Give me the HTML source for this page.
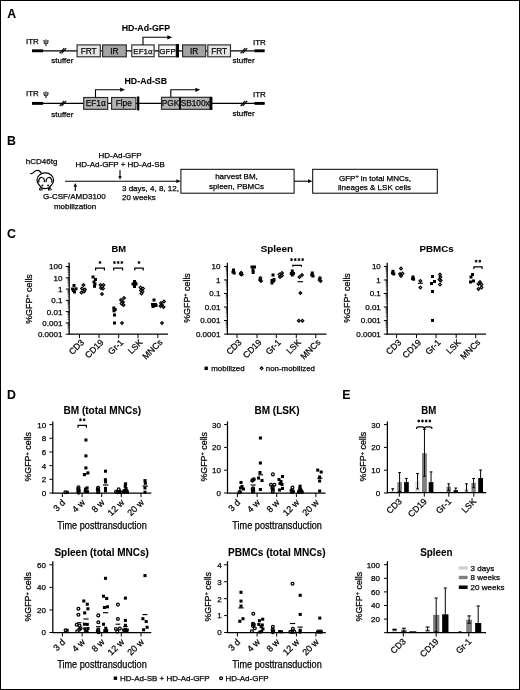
<!DOCTYPE html>
<html><head><meta charset="utf-8"><title>Figure</title>
<style>
html,body{margin:0;padding:0;background:#fff;}
body{width:520px;height:690px;overflow:hidden;position:relative;}
svg text{stroke:#000;stroke-width:0.25px;}
svg text[font-weight=bold]{stroke-width:0.08px;}
svg{position:absolute;left:0;top:0;display:block;will-change:transform;font-family:"Liberation Sans",sans-serif;fill:#000;}
#frame{position:absolute;left:0;top:0;width:518px;height:688px;border:1px solid #000;}
</style></head><body>
<svg width="520" height="690" viewBox="0 0 520 690">
<text x="7.2" y="17.5" font-size="12.3" text-anchor="start" font-weight="bold">A</text>
<text x="145.9" y="31.2" font-size="8.9" text-anchor="middle" font-weight="bold" textLength="48.4" lengthAdjust="spacingAndGlyphs">HD-Ad-GFP</text>
<text x="145.8" y="83.7" font-size="8.9" text-anchor="middle" font-weight="bold" textLength="42.6" lengthAdjust="spacingAndGlyphs">HD-Ad-SB</text>
<line x1="32" y1="50.8" x2="264.5" y2="50.8" stroke="#000" stroke-width="1.25" />
<line x1="32" y1="50.8" x2="43.1" y2="50.8" stroke="#000" stroke-width="2.9" />
<line x1="254.5" y1="50.8" x2="264.6" y2="50.8" stroke="#000" stroke-width="2.9" />
<text x="26" y="43.6" font-size="8" text-anchor="start">ITR</text>
<text x="43.2" y="43.800000000000004" font-size="7.6" text-anchor="start">ψ</text>
<text x="253" y="44.5" font-size="8" text-anchor="start">ITR</text>
<text x="51.3" y="63.4" font-size="8" text-anchor="start">stuffer</text>
<text x="232.6" y="63.0" font-size="8" text-anchor="start">stuffer</text>
<line x1="59.6" y1="53.4" x2="64.2" y2="48.199999999999996" stroke="#000" stroke-width="1.15" />
<line x1="61.6" y1="53.4" x2="66.2" y2="48.199999999999996" stroke="#000" stroke-width="1.15" />
<line x1="240.6" y1="53.4" x2="245.2" y2="48.199999999999996" stroke="#000" stroke-width="1.15" />
<line x1="242.6" y1="53.4" x2="247.2" y2="48.199999999999996" stroke="#000" stroke-width="1.15" />
<line x1="32" y1="103.4" x2="264.5" y2="103.4" stroke="#000" stroke-width="1.25" />
<line x1="32" y1="103.4" x2="43.1" y2="103.4" stroke="#000" stroke-width="2.9" />
<line x1="254.5" y1="103.4" x2="264.6" y2="103.4" stroke="#000" stroke-width="2.9" />
<text x="26" y="96" font-size="8" text-anchor="start">ITR</text>
<text x="43.2" y="96.2" font-size="7.6" text-anchor="start">ψ</text>
<text x="253" y="96.9" font-size="8" text-anchor="start">ITR</text>
<text x="51.3" y="116.5" font-size="8" text-anchor="start">stuffer</text>
<text x="232.6" y="116.1" font-size="8" text-anchor="start">stuffer</text>
<line x1="59.6" y1="106.0" x2="64.2" y2="100.80000000000001" stroke="#000" stroke-width="1.15" />
<line x1="61.6" y1="106.0" x2="66.2" y2="100.80000000000001" stroke="#000" stroke-width="1.15" />
<line x1="240.6" y1="106.0" x2="245.2" y2="100.80000000000001" stroke="#000" stroke-width="1.15" />
<line x1="242.6" y1="106.0" x2="247.2" y2="100.80000000000001" stroke="#000" stroke-width="1.15" />
<rect x="77.1" y="44.9" width="23.200000000000003" height="11.899999999999999" fill="#e6e6e6" stroke="#2a2a2a" stroke-width="1.15"/>
<text x="88.69999999999999" y="53.849999999999994" font-size="8.3" text-anchor="middle" fill="#111">FRT</text>
<rect x="102.6" y="44.9" width="23.700000000000003" height="11.899999999999999" fill="#a3a3a3" stroke="#2a2a2a" stroke-width="1.15"/>
<text x="114.44999999999999" y="53.849999999999994" font-size="8.3" text-anchor="middle" fill="#111">IR</text>
<rect x="131.8" y="44.9" width="22.299999999999983" height="11.800000000000004" fill="#f6f6f6" stroke="#2a2a2a" stroke-width="1.15"/>
<text x="142.95" y="53.8" font-size="8" text-anchor="middle" fill="#111">EF1α</text>
<rect x="158.8" y="44.9" width="17.5" height="11.800000000000004" fill="#f6f6f6" stroke="#2a2a2a" stroke-width="1.15"/>
<text x="167.55" y="53.8" font-size="8" text-anchor="middle" fill="#111">GFP</text>
<rect x="176.2" y="44" width="2.8" height="13.4" fill="#000" stroke="none" stroke-width="1"/>
<rect x="182.6" y="44.9" width="23.099999999999994" height="11.899999999999999" fill="#a3a3a3" stroke="#2a2a2a" stroke-width="1.15"/>
<text x="194.14999999999998" y="53.849999999999994" font-size="8.3" text-anchor="middle" fill="#111">IR</text>
<rect x="207.8" y="44.9" width="22.69999999999999" height="11.899999999999999" fill="#e6e6e6" stroke="#2a2a2a" stroke-width="1.15"/>
<text x="219.15" y="53.849999999999994" font-size="8.3" text-anchor="middle" fill="#111">FRT</text>
<path d="M143 44.9V37.3H168.6" fill="none" stroke="#000" stroke-width="1.1"/>
<path d="M172.2 37.3L167.4 35.2V39.4Z" fill="#000"/>
<rect x="83.7" y="97.5" width="24.0" height="11.799999999999997" fill="#b5b5b5" stroke="#2a2a2a" stroke-width="1.15"/>
<text x="95.7" y="106.4" font-size="8.3" text-anchor="middle" fill="#111">EF1α</text>
<rect x="111.6" y="97.5" width="24.30000000000001" height="11.799999999999997" fill="#b5b5b5" stroke="#2a2a2a" stroke-width="1.15"/>
<text x="123.75" y="106.4" font-size="8.3" text-anchor="middle" fill="#111">Flpe</text>
<rect x="137.1" y="96.4" width="2.2" height="14" fill="#000" stroke="none" stroke-width="1"/>
<rect x="161.5" y="97.3" width="18.099999999999994" height="12.0" fill="#b5b5b5" stroke="#2a2a2a" stroke-width="1.15"/>
<text x="170.55" y="106.3" font-size="8.3" text-anchor="middle" fill="#111">PGK</text>
<rect x="180.4" y="97.3" width="29.599999999999994" height="12.0" fill="#b5b5b5" stroke="#2a2a2a" stroke-width="1.15"/>
<text x="195.2" y="106.3" font-size="8.3" text-anchor="middle" fill="#111">SB100x</text>
<rect x="179.2" y="97.3" width="1.6" height="12" fill="#000" stroke="none" stroke-width="1"/>
<rect x="209.8" y="96.8" width="2.6" height="13.2" fill="#000" stroke="none" stroke-width="1"/>
<path d="M95.5 97.3V89.7H121.5" fill="none" stroke="#000" stroke-width="1.1"/>
<path d="M125 89.7L120.2 87.6V91.8Z" fill="#000"/>
<path d="M170.8 97V89.8H196.5" fill="none" stroke="#000" stroke-width="1.1"/>
<path d="M200.2 89.8L195.4 87.7V91.9Z" fill="#000"/>
<text x="6.9" y="145" font-size="12.3" text-anchor="start" font-weight="bold">B</text>
<text x="25.8" y="164.3" font-size="8" text-anchor="start">hCD46tg</text>
<g fill="none" stroke="#000" stroke-width="1.25" stroke-linecap="round" stroke-linejoin="round"><path d="M30.7 173.5C33 174.2 33.8 171.6 35.6 170.8C38 169.7 40.2 170.6 41.4 173.4"/><path d="M45.3 172.9C40.4 172.9 37 176.4 37 180.2C37 183 38.6 184.6 40 186C41.2 187.8 42.8 188.6 45.3 188.6C47.8 188.6 49.4 187.8 50.6 186C52 184.6 53.6 183 53.6 180.2C53.6 176.4 50.2 172.9 45.3 172.9Z"/><path d="M38.8 182C38.4 179.2 40 177.4 41.8 177.5C43.6 177.6 44.6 179.4 44.4 181.6"/><path d="M51.8 182C52.2 179.2 50.6 177.4 48.8 177.5C47 177.6 46 179.4 46.2 181.6"/></g>
<g fill="none" stroke="#000" stroke-width="1" stroke-linecap="round"><path d="M40.2 187.6L39.4 189.8M41.2 188L40.7 190.2M42.2 188.4L42 190.2"/><path d="M50.4 187.6L51.2 189.8M49.4 188L49.9 190.2M48.4 188.4L48.6 190.2"/></g>
<circle cx="42.4" cy="185.4" r="0.95"/><circle cx="48.1" cy="185.4" r="0.95"/>
<line x1="65" y1="181.2" x2="178" y2="181.2" stroke="#000" stroke-width="1.15" />
<path d="M180.8 181.2L176.4 179.3V183.1Z" fill="#000"/>
<line x1="75.3" y1="191" x2="75.3" y2="185.5" stroke="#000" stroke-width="1.1" />
<path d="M75.3 183L73.5 186.8H77.1Z" fill="#000"/>
<line x1="120" y1="170" x2="120" y2="177" stroke="#000" stroke-width="1.1" />
<path d="M120 179.8L118.3 176H121.7Z" fill="#000"/>
<text x="74.4" y="199" font-size="8" text-anchor="middle">G-CSF/AMD3100</text>
<text x="75" y="209" font-size="8" text-anchor="middle">mobilization</text>
<text x="120" y="158.2" font-size="8" text-anchor="middle">HD-Ad-GFP</text>
<text x="120.2" y="167.2" font-size="8" text-anchor="middle">HD-Ad-GFP + HD-Ad-SB</text>
<text x="122" y="190.7" font-size="8" text-anchor="start">3 days, 4, 8, 12,</text>
<text x="122" y="200" font-size="8" text-anchor="start">20 weeks</text>
<rect x="180.9" y="169.3" width="113.2" height="23.9" fill="#fff" stroke="#000" stroke-width="1"/>
<text x="236.5" y="179.4" font-size="8" text-anchor="middle">harvest BM,</text>
<text x="236.5" y="189.3" font-size="8" text-anchor="middle">spleen, PBMCs</text>
<line x1="294" y1="181.2" x2="309" y2="181.2" stroke="#000" stroke-width="1.1" />
<path d="M312.5 181.2L308 179.3V183.1Z" fill="#000"/>
<rect x="312.7" y="169.3" width="124.6" height="23.9" fill="#fff" stroke="#000" stroke-width="1"/>
<text x="375" y="180.6" font-size="8" text-anchor="middle">GFP<tspan font-size="5.5" dy="-2.8">+</tspan><tspan dy="2.8"> in total MNCs,</tspan></text>
<text x="374.5" y="190" font-size="8" text-anchor="middle">lineages &amp; LSK cells</text>
<text x="6.9" y="237.6" font-size="12.3" text-anchor="start" font-weight="bold">C</text>
<line x1="69.2" y1="262.8" x2="69.2" y2="334.70000000000005" stroke="#000" stroke-width="1.25" />
<line x1="68.60000000000001" y1="334.1" x2="168" y2="334.1" stroke="#000" stroke-width="1.25" />
<line x1="65.8" y1="266.5" x2="69.2" y2="266.5" stroke="#000" stroke-width="1.0" />
<text x="62.4" y="269.4" font-size="8.0" text-anchor="end">100</text>
<line x1="65.8" y1="277.78" x2="69.2" y2="277.78" stroke="#000" stroke-width="1.0" />
<text x="62.4" y="280.67999999999995" font-size="8.0" text-anchor="end">10</text>
<line x1="65.8" y1="289.06" x2="69.2" y2="289.06" stroke="#000" stroke-width="1.0" />
<text x="62.4" y="291.96" font-size="8.0" text-anchor="end">1</text>
<line x1="65.8" y1="300.34" x2="69.2" y2="300.34" stroke="#000" stroke-width="1.0" />
<text x="62.4" y="303.23999999999995" font-size="8.0" text-anchor="end">0.1</text>
<line x1="65.8" y1="311.62" x2="69.2" y2="311.62" stroke="#000" stroke-width="1.0" />
<text x="62.4" y="314.52" font-size="8.0" text-anchor="end">0.01</text>
<line x1="65.8" y1="322.9" x2="69.2" y2="322.9" stroke="#000" stroke-width="1.0" />
<text x="62.4" y="325.79999999999995" font-size="8.0" text-anchor="end">0.001</text>
<line x1="65.8" y1="334.18" x2="69.2" y2="334.18" stroke="#000" stroke-width="1.0" />
<text x="62.4" y="337.08" font-size="8.0" text-anchor="end">0.0001</text>
<line x1="79.5" y1="334.1" x2="79.5" y2="338.1" stroke="#000" stroke-width="1.0" />
<line x1="99" y1="334.1" x2="99" y2="338.1" stroke="#000" stroke-width="1.0" />
<line x1="118.7" y1="334.1" x2="118.7" y2="338.1" stroke="#000" stroke-width="1.0" />
<line x1="138" y1="334.1" x2="138" y2="338.1" stroke="#000" stroke-width="1.0" />
<line x1="157.8" y1="334.1" x2="157.8" y2="338.1" stroke="#000" stroke-width="1.0" />
<line x1="67.60000000000001" y1="263.1043816489103" x2="69.2" y2="263.1043816489103" stroke="#000" stroke-width="0.55" />
<line x1="67.60000000000001" y1="274.3843816489103" x2="69.2" y2="274.3843816489103" stroke="#000" stroke-width="0.55" />
<line x1="67.60000000000001" y1="272.3980722467622" x2="69.2" y2="272.3980722467622" stroke="#000" stroke-width="0.55" />
<line x1="67.60000000000001" y1="270.9887632978206" x2="69.2" y2="270.9887632978206" stroke="#000" stroke-width="0.55" />
<line x1="67.60000000000001" y1="269.8956183510897" x2="69.2" y2="269.8956183510897" stroke="#000" stroke-width="0.55" />
<line x1="67.60000000000001" y1="269.0024538956725" x2="69.2" y2="269.0024538956725" stroke="#000" stroke-width="0.55" />
<line x1="67.60000000000001" y1="268.24729410863915" x2="69.2" y2="268.24729410863915" stroke="#000" stroke-width="0.55" />
<line x1="67.60000000000001" y1="267.59314494673083" x2="69.2" y2="267.59314494673083" stroke="#000" stroke-width="0.55" />
<line x1="67.60000000000001" y1="267.0161444935244" x2="69.2" y2="267.0161444935244" stroke="#000" stroke-width="0.55" />
<line x1="67.60000000000001" y1="285.6643816489103" x2="69.2" y2="285.6643816489103" stroke="#000" stroke-width="0.55" />
<line x1="67.60000000000001" y1="283.6780722467622" x2="69.2" y2="283.6780722467622" stroke="#000" stroke-width="0.55" />
<line x1="67.60000000000001" y1="282.2687632978206" x2="69.2" y2="282.2687632978206" stroke="#000" stroke-width="0.55" />
<line x1="67.60000000000001" y1="281.1756183510897" x2="69.2" y2="281.1756183510897" stroke="#000" stroke-width="0.55" />
<line x1="67.60000000000001" y1="280.2824538956725" x2="69.2" y2="280.2824538956725" stroke="#000" stroke-width="0.55" />
<line x1="67.60000000000001" y1="279.5272941086392" x2="69.2" y2="279.5272941086392" stroke="#000" stroke-width="0.55" />
<line x1="67.60000000000001" y1="278.87314494673086" x2="69.2" y2="278.87314494673086" stroke="#000" stroke-width="0.55" />
<line x1="67.60000000000001" y1="278.2961444935244" x2="69.2" y2="278.2961444935244" stroke="#000" stroke-width="0.55" />
<line x1="67.60000000000001" y1="296.9443816489103" x2="69.2" y2="296.9443816489103" stroke="#000" stroke-width="0.55" />
<line x1="67.60000000000001" y1="294.9580722467622" x2="69.2" y2="294.9580722467622" stroke="#000" stroke-width="0.55" />
<line x1="67.60000000000001" y1="293.5487632978206" x2="69.2" y2="293.5487632978206" stroke="#000" stroke-width="0.55" />
<line x1="67.60000000000001" y1="292.4556183510897" x2="69.2" y2="292.4556183510897" stroke="#000" stroke-width="0.55" />
<line x1="67.60000000000001" y1="291.5624538956725" x2="69.2" y2="291.5624538956725" stroke="#000" stroke-width="0.55" />
<line x1="67.60000000000001" y1="290.80729410863916" x2="69.2" y2="290.80729410863916" stroke="#000" stroke-width="0.55" />
<line x1="67.60000000000001" y1="290.15314494673083" x2="69.2" y2="290.15314494673083" stroke="#000" stroke-width="0.55" />
<line x1="67.60000000000001" y1="289.5761444935244" x2="69.2" y2="289.5761444935244" stroke="#000" stroke-width="0.55" />
<line x1="67.60000000000001" y1="308.2243816489103" x2="69.2" y2="308.2243816489103" stroke="#000" stroke-width="0.55" />
<line x1="67.60000000000001" y1="306.2380722467622" x2="69.2" y2="306.2380722467622" stroke="#000" stroke-width="0.55" />
<line x1="67.60000000000001" y1="304.8287632978206" x2="69.2" y2="304.8287632978206" stroke="#000" stroke-width="0.55" />
<line x1="67.60000000000001" y1="303.7356183510897" x2="69.2" y2="303.7356183510897" stroke="#000" stroke-width="0.55" />
<line x1="67.60000000000001" y1="302.8424538956725" x2="69.2" y2="302.8424538956725" stroke="#000" stroke-width="0.55" />
<line x1="67.60000000000001" y1="302.0872941086392" x2="69.2" y2="302.0872941086392" stroke="#000" stroke-width="0.55" />
<line x1="67.60000000000001" y1="301.43314494673086" x2="69.2" y2="301.43314494673086" stroke="#000" stroke-width="0.55" />
<line x1="67.60000000000001" y1="300.8561444935244" x2="69.2" y2="300.8561444935244" stroke="#000" stroke-width="0.55" />
<line x1="67.60000000000001" y1="319.5043816489103" x2="69.2" y2="319.5043816489103" stroke="#000" stroke-width="0.55" />
<line x1="67.60000000000001" y1="317.5180722467622" x2="69.2" y2="317.5180722467622" stroke="#000" stroke-width="0.55" />
<line x1="67.60000000000001" y1="316.1087632978206" x2="69.2" y2="316.1087632978206" stroke="#000" stroke-width="0.55" />
<line x1="67.60000000000001" y1="315.0156183510897" x2="69.2" y2="315.0156183510897" stroke="#000" stroke-width="0.55" />
<line x1="67.60000000000001" y1="314.1224538956725" x2="69.2" y2="314.1224538956725" stroke="#000" stroke-width="0.55" />
<line x1="67.60000000000001" y1="313.36729410863916" x2="69.2" y2="313.36729410863916" stroke="#000" stroke-width="0.55" />
<line x1="67.60000000000001" y1="312.71314494673084" x2="69.2" y2="312.71314494673084" stroke="#000" stroke-width="0.55" />
<line x1="67.60000000000001" y1="312.1361444935244" x2="69.2" y2="312.1361444935244" stroke="#000" stroke-width="0.55" />
<line x1="67.60000000000001" y1="330.7843816489103" x2="69.2" y2="330.7843816489103" stroke="#000" stroke-width="0.55" />
<line x1="67.60000000000001" y1="328.7980722467622" x2="69.2" y2="328.7980722467622" stroke="#000" stroke-width="0.55" />
<line x1="67.60000000000001" y1="327.3887632978206" x2="69.2" y2="327.3887632978206" stroke="#000" stroke-width="0.55" />
<line x1="67.60000000000001" y1="326.29561835108973" x2="69.2" y2="326.29561835108973" stroke="#000" stroke-width="0.55" />
<line x1="67.60000000000001" y1="325.4024538956725" x2="69.2" y2="325.4024538956725" stroke="#000" stroke-width="0.55" />
<line x1="67.60000000000001" y1="324.6472941086392" x2="69.2" y2="324.6472941086392" stroke="#000" stroke-width="0.55" />
<line x1="67.60000000000001" y1="323.99314494673087" x2="69.2" y2="323.99314494673087" stroke="#000" stroke-width="0.55" />
<line x1="67.60000000000001" y1="323.4161444935244" x2="69.2" y2="323.4161444935244" stroke="#000" stroke-width="0.55" />
<text x="118.8" y="251.9" font-size="9.6" text-anchor="middle" font-weight="bold" textLength="14.6" lengthAdjust="spacingAndGlyphs">BM</text>
<text transform="translate(31.6,299) rotate(-90)" font-size="9.4" text-anchor="middle" textLength="49.6" lengthAdjust="spacingAndGlyphs">%GFP<tspan font-size="6" dy="-2.4">+</tspan><tspan dy="2.4"> cells</tspan></text>
<text transform="translate(84.7,343.0) rotate(-45)" font-size="8.7" text-anchor="end">CD3</text>
<text transform="translate(104.2,343.0) rotate(-45)" font-size="8.7" text-anchor="end">CD19</text>
<text transform="translate(123.9,343.0) rotate(-45)" font-size="8.7" text-anchor="end">Gr-1</text>
<text transform="translate(143.2,343.0) rotate(-45)" font-size="8.7" text-anchor="end">LSK</text>
<text transform="translate(163.0,343.0) rotate(-45)" font-size="8.7" text-anchor="end">MNCs</text>
<path d="M95.6 270.5V268.2H104.4V270.5" fill="none" stroke="#000" stroke-width="1.2"/>
<path d="M100.00 261.05L100.00 263.95M98.74 261.77L101.26 263.23M101.26 261.77L98.74 263.23" stroke="#000" stroke-width="0.95" fill="none"/>
<circle cx="100.00" cy="262.50" r="0.8" fill="#000"/>
<path d="M113.7 270.5V268.2H122.6V270.5" fill="none" stroke="#000" stroke-width="1.2"/>
<path d="M114.45 261.05L114.45 263.95M113.19 261.77L115.71 263.23M115.71 261.77L113.19 263.23" stroke="#000" stroke-width="0.95" fill="none"/>
<circle cx="114.45" cy="262.50" r="0.8" fill="#000"/>
<path d="M118.15 261.05L118.15 263.95M116.89 261.77L119.41 263.23M119.41 261.77L116.89 263.23" stroke="#000" stroke-width="0.95" fill="none"/>
<circle cx="118.15" cy="262.50" r="0.8" fill="#000"/>
<path d="M121.85 261.05L121.85 263.95M120.59 261.77L123.11 263.23M123.11 261.77L120.59 263.23" stroke="#000" stroke-width="0.95" fill="none"/>
<circle cx="121.85" cy="262.50" r="0.8" fill="#000"/>
<path d="M134.8 270.5V268.2H143.2V270.5" fill="none" stroke="#000" stroke-width="1.2"/>
<path d="M139.00 261.05L139.00 263.95M137.74 261.77L140.26 263.23M140.26 261.77L137.74 263.23" stroke="#000" stroke-width="0.95" fill="none"/>
<circle cx="139.00" cy="262.50" r="0.8" fill="#000"/>
<rect x="72.50" y="284.00" width="3.0" height="3.0" fill="#000"/>
<rect x="71.10" y="287.50" width="3.0" height="3.0" fill="#000"/>
<rect x="74.50" y="287.30" width="3.0" height="3.0" fill="#000"/>
<rect x="73.00" y="290.50" width="3.0" height="3.0" fill="#000"/>
<rect x="72.00" y="289.00" width="3.0" height="3.0" fill="#000"/>
<rect x="91.50" y="275.50" width="3.0" height="3.0" fill="#000"/>
<rect x="94.00" y="278.00" width="3.0" height="3.0" fill="#000"/>
<rect x="92.50" y="280.50" width="3.0" height="3.0" fill="#000"/>
<rect x="93.50" y="282.50" width="3.0" height="3.0" fill="#000"/>
<rect x="93.00" y="284.80" width="3.0" height="3.0" fill="#000"/>
<rect x="112.30" y="306.50" width="3.0" height="3.0" fill="#000"/>
<rect x="113.70" y="308.00" width="3.0" height="3.0" fill="#000"/>
<rect x="112.50" y="309.30" width="3.0" height="3.0" fill="#000"/>
<rect x="113.00" y="313.50" width="3.0" height="3.0" fill="#000"/>
<rect x="113.00" y="321.50" width="3.0" height="3.0" fill="#000"/>
<rect x="133.00" y="280.00" width="3.0" height="3.0" fill="#000"/>
<rect x="131.50" y="282.50" width="3.0" height="3.0" fill="#000"/>
<rect x="134.50" y="282.50" width="3.0" height="3.0" fill="#000"/>
<rect x="133.00" y="285.00" width="3.0" height="3.0" fill="#000"/>
<rect x="133.70" y="281.50" width="3.0" height="3.0" fill="#000"/>
<rect x="152.50" y="298.50" width="3.0" height="3.0" fill="#000"/>
<rect x="151.00" y="303.00" width="3.0" height="3.0" fill="#000"/>
<rect x="152.50" y="304.00" width="3.0" height="3.0" fill="#000"/>
<rect x="154.00" y="303.00" width="3.0" height="3.0" fill="#000"/>
<rect x="151.50" y="305.00" width="3.0" height="3.0" fill="#000"/>
<rect x="154.50" y="304.00" width="3.0" height="3.0" fill="#000"/>
<path d="M83.50 283.60L84.90 285.00L83.50 286.40L82.10 285.00Z" fill="none" stroke="#000" stroke-width="1.15"/>
<path d="M82.00 287.10L83.40 288.50L82.00 289.90L80.60 288.50Z" fill="none" stroke="#000" stroke-width="1.15"/>
<path d="M85.00 288.10L86.40 289.50L85.00 290.90L83.60 289.50Z" fill="none" stroke="#000" stroke-width="1.15"/>
<path d="M81.50 291.10L82.90 292.50L81.50 293.90L80.10 292.50Z" fill="none" stroke="#000" stroke-width="1.15"/>
<path d="M84.00 290.10L85.40 291.50L84.00 292.90L82.60 291.50Z" fill="none" stroke="#000" stroke-width="1.15"/>
<path d="M100.50 283.60L101.90 285.00L100.50 286.40L99.10 285.00Z" fill="none" stroke="#000" stroke-width="1.15"/>
<path d="M103.50 283.60L104.90 285.00L103.50 286.40L102.10 285.00Z" fill="none" stroke="#000" stroke-width="1.15"/>
<path d="M101.00 286.60L102.40 288.00L101.00 289.40L99.60 288.00Z" fill="none" stroke="#000" stroke-width="1.15"/>
<path d="M103.00 287.10L104.40 288.50L103.00 289.90L101.60 288.50Z" fill="none" stroke="#000" stroke-width="1.15"/>
<path d="M102.00 292.60L103.40 294.00L102.00 295.40L100.60 294.00Z" fill="none" stroke="#000" stroke-width="1.15"/>
<path d="M124.00 296.60L125.40 298.00L124.00 299.40L122.60 298.00Z" fill="none" stroke="#000" stroke-width="1.15"/>
<path d="M121.00 298.60L122.40 300.00L121.00 301.40L119.60 300.00Z" fill="none" stroke="#000" stroke-width="1.15"/>
<path d="M123.00 300.60L124.40 302.00L123.00 303.40L121.60 302.00Z" fill="none" stroke="#000" stroke-width="1.15"/>
<path d="M121.50 302.10L122.90 303.50L121.50 304.90L120.10 303.50Z" fill="none" stroke="#000" stroke-width="1.15"/>
<path d="M123.50 303.60L124.90 305.00L123.50 306.40L122.10 305.00Z" fill="none" stroke="#000" stroke-width="1.15"/>
<path d="M122.00 321.60L123.40 323.00L122.00 324.40L120.60 323.00Z" fill="none" stroke="#000" stroke-width="1.15"/>
<path d="M140.50 286.10L141.90 287.50L140.50 288.90L139.10 287.50Z" fill="none" stroke="#000" stroke-width="1.15"/>
<path d="M143.00 287.10L144.40 288.50L143.00 289.90L141.60 288.50Z" fill="none" stroke="#000" stroke-width="1.15"/>
<path d="M141.00 289.10L142.40 290.50L141.00 291.90L139.60 290.50Z" fill="none" stroke="#000" stroke-width="1.15"/>
<path d="M142.50 290.10L143.90 291.50L142.50 292.90L141.10 291.50Z" fill="none" stroke="#000" stroke-width="1.15"/>
<path d="M141.50 292.10L142.90 293.50L141.50 294.90L140.10 293.50Z" fill="none" stroke="#000" stroke-width="1.15"/>
<path d="M164.00 300.10L165.40 301.50L164.00 302.90L162.60 301.50Z" fill="none" stroke="#000" stroke-width="1.15"/>
<path d="M161.00 301.60L162.40 303.00L161.00 304.40L159.60 303.00Z" fill="none" stroke="#000" stroke-width="1.15"/>
<path d="M160.50 304.60L161.90 306.00L160.50 307.40L159.10 306.00Z" fill="none" stroke="#000" stroke-width="1.15"/>
<path d="M163.50 305.60L164.90 307.00L163.50 308.40L162.10 307.00Z" fill="none" stroke="#000" stroke-width="1.15"/>
<path d="M162.00 303.60L163.40 305.00L162.00 306.40L160.60 305.00Z" fill="none" stroke="#000" stroke-width="1.15"/>
<path d="M162.00 321.60L163.40 323.00L162.00 324.40L160.60 323.00Z" fill="none" stroke="#000" stroke-width="1.15"/>
<line x1="227.4" y1="262.8" x2="227.4" y2="334.70000000000005" stroke="#000" stroke-width="1.25" />
<line x1="226.8" y1="334.1" x2="326.5" y2="334.1" stroke="#000" stroke-width="1.25" />
<line x1="224.0" y1="266.4" x2="227.4" y2="266.4" stroke="#000" stroke-width="1.0" />
<text x="220.4" y="269.29999999999995" font-size="8.0" text-anchor="end">10</text>
<line x1="224.0" y1="279.94" x2="227.4" y2="279.94" stroke="#000" stroke-width="1.0" />
<text x="220.4" y="282.84" font-size="8.0" text-anchor="end">1</text>
<line x1="224.0" y1="293.47999999999996" x2="227.4" y2="293.47999999999996" stroke="#000" stroke-width="1.0" />
<text x="220.4" y="296.37999999999994" font-size="8.0" text-anchor="end">0.1</text>
<line x1="224.0" y1="307.02" x2="227.4" y2="307.02" stroke="#000" stroke-width="1.0" />
<text x="220.4" y="309.91999999999996" font-size="8.0" text-anchor="end">0.01</text>
<line x1="224.0" y1="320.55999999999995" x2="227.4" y2="320.55999999999995" stroke="#000" stroke-width="1.0" />
<text x="220.4" y="323.4599999999999" font-size="8.0" text-anchor="end">0.001</text>
<line x1="224.0" y1="334.09999999999997" x2="227.4" y2="334.09999999999997" stroke="#000" stroke-width="1.0" />
<text x="220.4" y="336.99999999999994" font-size="8.0" text-anchor="end">0.0001</text>
<line x1="237" y1="334.1" x2="237" y2="338.1" stroke="#000" stroke-width="1.0" />
<line x1="257" y1="334.1" x2="257" y2="338.1" stroke="#000" stroke-width="1.0" />
<line x1="276.3" y1="334.1" x2="276.3" y2="338.1" stroke="#000" stroke-width="1.0" />
<line x1="296.3" y1="334.1" x2="296.3" y2="338.1" stroke="#000" stroke-width="1.0" />
<line x1="315.8" y1="334.1" x2="315.8" y2="338.1" stroke="#000" stroke-width="1.0" />
<line x1="225.8" y1="275.86405385870967" x2="227.4" y2="275.86405385870967" stroke="#000" stroke-width="0.55" />
<line x1="225.8" y1="273.4797782110958" x2="227.4" y2="273.4797782110958" stroke="#000" stroke-width="0.55" />
<line x1="225.8" y1="271.7881077174194" x2="227.4" y2="271.7881077174194" stroke="#000" stroke-width="0.55" />
<line x1="225.8" y1="270.4759461412903" x2="227.4" y2="270.4759461412903" stroke="#000" stroke-width="0.55" />
<line x1="225.8" y1="269.40383206980545" x2="227.4" y2="269.40383206980545" stroke="#000" stroke-width="0.55" />
<line x1="225.8" y1="268.49737253820695" x2="227.4" y2="268.49737253820695" stroke="#000" stroke-width="0.55" />
<line x1="225.8" y1="267.71216157612906" x2="227.4" y2="267.71216157612906" stroke="#000" stroke-width="0.55" />
<line x1="225.8" y1="267.01955642219156" x2="227.4" y2="267.01955642219156" stroke="#000" stroke-width="0.55" />
<line x1="225.8" y1="289.40405385870963" x2="227.4" y2="289.40405385870963" stroke="#000" stroke-width="0.55" />
<line x1="225.8" y1="287.01977821109574" x2="227.4" y2="287.01977821109574" stroke="#000" stroke-width="0.55" />
<line x1="225.8" y1="285.32810771741936" x2="227.4" y2="285.32810771741936" stroke="#000" stroke-width="0.55" />
<line x1="225.8" y1="284.01594614129027" x2="227.4" y2="284.01594614129027" stroke="#000" stroke-width="0.55" />
<line x1="225.8" y1="282.9438320698054" x2="227.4" y2="282.9438320698054" stroke="#000" stroke-width="0.55" />
<line x1="225.8" y1="282.0373725382069" x2="227.4" y2="282.0373725382069" stroke="#000" stroke-width="0.55" />
<line x1="225.8" y1="281.252161576129" x2="227.4" y2="281.252161576129" stroke="#000" stroke-width="0.55" />
<line x1="225.8" y1="280.5595564221915" x2="227.4" y2="280.5595564221915" stroke="#000" stroke-width="0.55" />
<line x1="225.8" y1="302.94405385870965" x2="227.4" y2="302.94405385870965" stroke="#000" stroke-width="0.55" />
<line x1="225.8" y1="300.55977821109576" x2="227.4" y2="300.55977821109576" stroke="#000" stroke-width="0.55" />
<line x1="225.8" y1="298.8681077174194" x2="227.4" y2="298.8681077174194" stroke="#000" stroke-width="0.55" />
<line x1="225.8" y1="297.5559461412903" x2="227.4" y2="297.5559461412903" stroke="#000" stroke-width="0.55" />
<line x1="225.8" y1="296.48383206980543" x2="227.4" y2="296.48383206980543" stroke="#000" stroke-width="0.55" />
<line x1="225.8" y1="295.57737253820693" x2="227.4" y2="295.57737253820693" stroke="#000" stroke-width="0.55" />
<line x1="225.8" y1="294.79216157612905" x2="227.4" y2="294.79216157612905" stroke="#000" stroke-width="0.55" />
<line x1="225.8" y1="294.09955642219154" x2="227.4" y2="294.09955642219154" stroke="#000" stroke-width="0.55" />
<line x1="225.8" y1="316.4840538587096" x2="227.4" y2="316.4840538587096" stroke="#000" stroke-width="0.55" />
<line x1="225.8" y1="314.0997782110957" x2="227.4" y2="314.0997782110957" stroke="#000" stroke-width="0.55" />
<line x1="225.8" y1="312.40810771741934" x2="227.4" y2="312.40810771741934" stroke="#000" stroke-width="0.55" />
<line x1="225.8" y1="311.09594614129026" x2="227.4" y2="311.09594614129026" stroke="#000" stroke-width="0.55" />
<line x1="225.8" y1="310.0238320698054" x2="227.4" y2="310.0238320698054" stroke="#000" stroke-width="0.55" />
<line x1="225.8" y1="309.1173725382069" x2="227.4" y2="309.1173725382069" stroke="#000" stroke-width="0.55" />
<line x1="225.8" y1="308.332161576129" x2="227.4" y2="308.332161576129" stroke="#000" stroke-width="0.55" />
<line x1="225.8" y1="307.6395564221915" x2="227.4" y2="307.6395564221915" stroke="#000" stroke-width="0.55" />
<line x1="225.8" y1="330.02405385870964" x2="227.4" y2="330.02405385870964" stroke="#000" stroke-width="0.55" />
<line x1="225.8" y1="327.63977821109575" x2="227.4" y2="327.63977821109575" stroke="#000" stroke-width="0.55" />
<line x1="225.8" y1="325.94810771741936" x2="227.4" y2="325.94810771741936" stroke="#000" stroke-width="0.55" />
<line x1="225.8" y1="324.6359461412903" x2="227.4" y2="324.6359461412903" stroke="#000" stroke-width="0.55" />
<line x1="225.8" y1="323.5638320698054" x2="227.4" y2="323.5638320698054" stroke="#000" stroke-width="0.55" />
<line x1="225.8" y1="322.6573725382069" x2="227.4" y2="322.6573725382069" stroke="#000" stroke-width="0.55" />
<line x1="225.8" y1="321.87216157612903" x2="227.4" y2="321.87216157612903" stroke="#000" stroke-width="0.55" />
<line x1="225.8" y1="321.1795564221915" x2="227.4" y2="321.1795564221915" stroke="#000" stroke-width="0.55" />
<text x="276.9" y="252" font-size="9.6" text-anchor="middle" font-weight="bold" textLength="32.4" lengthAdjust="spacingAndGlyphs">Spleen</text>
<text transform="translate(189.6,298) rotate(-90)" font-size="9.4" text-anchor="middle" textLength="49.6" lengthAdjust="spacingAndGlyphs">%GFP<tspan font-size="6" dy="-2.4">+</tspan><tspan dy="2.4"> cells</tspan></text>
<text transform="translate(242.2,343.0) rotate(-45)" font-size="8.7" text-anchor="end">CD3</text>
<text transform="translate(262.2,343.0) rotate(-45)" font-size="8.7" text-anchor="end">CD19</text>
<text transform="translate(281.5,343.0) rotate(-45)" font-size="8.7" text-anchor="end">Gr-1</text>
<text transform="translate(301.5,343.0) rotate(-45)" font-size="8.7" text-anchor="end">LSK</text>
<text transform="translate(321.0,343.0) rotate(-45)" font-size="8.7" text-anchor="end">MNCs</text>
<path d="M292.8 266.8V265.3H301.4V266.8" fill="none" stroke="#000" stroke-width="1.2"/>
<path d="M291.55 258.15L291.55 261.05M290.29 258.88L292.81 260.33M292.81 258.88L290.29 260.33" stroke="#000" stroke-width="0.95" fill="none"/>
<circle cx="291.55" cy="259.60" r="0.8" fill="#000"/>
<path d="M295.25 258.15L295.25 261.05M293.99 258.88L296.51 260.33M296.51 258.88L293.99 260.33" stroke="#000" stroke-width="0.95" fill="none"/>
<circle cx="295.25" cy="259.60" r="0.8" fill="#000"/>
<path d="M298.95 258.15L298.95 261.05M297.69 258.88L300.21 260.33M300.21 258.88L297.69 260.33" stroke="#000" stroke-width="0.95" fill="none"/>
<circle cx="298.95" cy="259.60" r="0.8" fill="#000"/>
<path d="M302.65 258.15L302.65 261.05M301.39 258.88L303.91 260.33M303.91 258.88L301.39 260.33" stroke="#000" stroke-width="0.95" fill="none"/>
<circle cx="302.65" cy="259.60" r="0.8" fill="#000"/>
<rect x="232.00" y="268.50" width="3.0" height="3.0" fill="#000"/>
<rect x="231.50" y="270.50" width="3.0" height="3.0" fill="#000"/>
<rect x="232.70" y="271.50" width="3.0" height="3.0" fill="#000"/>
<rect x="232.00" y="269.70" width="3.0" height="3.0" fill="#000"/>
<rect x="250.50" y="265.50" width="3.0" height="3.0" fill="#000"/>
<rect x="253.00" y="265.50" width="3.0" height="3.0" fill="#000"/>
<rect x="251.50" y="268.50" width="3.0" height="3.0" fill="#000"/>
<rect x="251.70" y="271.00" width="3.0" height="3.0" fill="#000"/>
<rect x="271.50" y="273.50" width="3.0" height="3.0" fill="#000"/>
<rect x="270.50" y="279.00" width="3.0" height="3.0" fill="#000"/>
<rect x="272.10" y="279.50" width="3.0" height="3.0" fill="#000"/>
<rect x="270.50" y="281.50" width="3.0" height="3.0" fill="#000"/>
<rect x="272.50" y="278.00" width="3.0" height="3.0" fill="#000"/>
<rect x="290.80" y="269.50" width="3.0" height="3.0" fill="#000"/>
<rect x="289.80" y="272.00" width="3.0" height="3.0" fill="#000"/>
<rect x="292.00" y="272.00" width="3.0" height="3.0" fill="#000"/>
<rect x="290.80" y="273.50" width="3.0" height="3.0" fill="#000"/>
<rect x="310.80" y="271.50" width="3.0" height="3.0" fill="#000"/>
<rect x="310.30" y="273.50" width="3.0" height="3.0" fill="#000"/>
<rect x="311.50" y="274.50" width="3.0" height="3.0" fill="#000"/>
<path d="M241.20 271.40L242.60 272.80L241.20 274.20L239.80 272.80Z" fill="none" stroke="#000" stroke-width="1.15"/>
<path d="M240.70 272.60L242.10 274.00L240.70 275.40L239.30 274.00Z" fill="none" stroke="#000" stroke-width="1.15"/>
<path d="M241.80 273.10L243.20 274.50L241.80 275.90L240.40 274.50Z" fill="none" stroke="#000" stroke-width="1.15"/>
<path d="M260.40 276.60L261.80 278.00L260.40 279.40L259.00 278.00Z" fill="none" stroke="#000" stroke-width="1.15"/>
<path d="M260.00 278.60L261.40 280.00L260.00 281.40L258.60 280.00Z" fill="none" stroke="#000" stroke-width="1.15"/>
<path d="M261.00 279.60L262.40 281.00L261.00 282.40L259.60 281.00Z" fill="none" stroke="#000" stroke-width="1.15"/>
<path d="M282.00 271.60L283.40 273.00L282.00 274.40L280.60 273.00Z" fill="none" stroke="#000" stroke-width="1.15"/>
<path d="M279.50 273.10L280.90 274.50L279.50 275.90L278.10 274.50Z" fill="none" stroke="#000" stroke-width="1.15"/>
<path d="M282.00 274.10L283.40 275.50L282.00 276.90L280.60 275.50Z" fill="none" stroke="#000" stroke-width="1.15"/>
<path d="M280.00 275.60L281.40 277.00L280.00 278.40L278.60 277.00Z" fill="none" stroke="#000" stroke-width="1.15"/>
<path d="M302.00 273.60L303.40 275.00L302.00 276.40L300.60 275.00Z" fill="none" stroke="#000" stroke-width="1.15"/>
<path d="M299.50 275.60L300.90 277.00L299.50 278.40L298.10 277.00Z" fill="none" stroke="#000" stroke-width="1.15"/>
<path d="M300.40 291.60L301.80 293.00L300.40 294.40L299.00 293.00Z" fill="none" stroke="#000" stroke-width="1.15"/>
<path d="M298.80 319.40L300.20 320.80L298.80 322.20L297.40 320.80Z" fill="none" stroke="#000" stroke-width="1.15"/>
<path d="M302.40 319.40L303.80 320.80L302.40 322.20L301.00 320.80Z" fill="none" stroke="#000" stroke-width="1.15"/>
<path d="M320.00 276.60L321.40 278.00L320.00 279.40L318.60 278.00Z" fill="none" stroke="#000" stroke-width="1.15"/>
<path d="M319.60 278.60L321.00 280.00L319.60 281.40L318.20 280.00Z" fill="none" stroke="#000" stroke-width="1.15"/>
<path d="M320.60 279.60L322.00 281.00L320.60 282.40L319.20 281.00Z" fill="none" stroke="#000" stroke-width="1.15"/>
<line x1="297.55" y1="281.7" x2="303.05" y2="281.7" stroke="#000" stroke-width="1.15" />
<line x1="387.2" y1="262.8" x2="387.2" y2="334.70000000000005" stroke="#000" stroke-width="1.25" />
<line x1="386.59999999999997" y1="334.1" x2="486" y2="334.1" stroke="#000" stroke-width="1.25" />
<line x1="383.8" y1="266.4" x2="387.2" y2="266.4" stroke="#000" stroke-width="1.0" />
<text x="380.8" y="269.29999999999995" font-size="8.0" text-anchor="end">10</text>
<line x1="383.8" y1="279.94" x2="387.2" y2="279.94" stroke="#000" stroke-width="1.0" />
<text x="380.8" y="282.84" font-size="8.0" text-anchor="end">1</text>
<line x1="383.8" y1="293.47999999999996" x2="387.2" y2="293.47999999999996" stroke="#000" stroke-width="1.0" />
<text x="380.8" y="296.37999999999994" font-size="8.0" text-anchor="end">0.1</text>
<line x1="383.8" y1="307.02" x2="387.2" y2="307.02" stroke="#000" stroke-width="1.0" />
<text x="380.8" y="309.91999999999996" font-size="8.0" text-anchor="end">0.01</text>
<line x1="383.8" y1="320.55999999999995" x2="387.2" y2="320.55999999999995" stroke="#000" stroke-width="1.0" />
<text x="380.8" y="323.4599999999999" font-size="8.0" text-anchor="end">0.001</text>
<line x1="383.8" y1="334.09999999999997" x2="387.2" y2="334.09999999999997" stroke="#000" stroke-width="1.0" />
<text x="380.8" y="336.99999999999994" font-size="8.0" text-anchor="end">0.0001</text>
<line x1="396.6" y1="334.1" x2="396.6" y2="338.1" stroke="#000" stroke-width="1.0" />
<line x1="416.5" y1="334.1" x2="416.5" y2="338.1" stroke="#000" stroke-width="1.0" />
<line x1="436" y1="334.1" x2="436" y2="338.1" stroke="#000" stroke-width="1.0" />
<line x1="456.2" y1="334.1" x2="456.2" y2="338.1" stroke="#000" stroke-width="1.0" />
<line x1="475.7" y1="334.1" x2="475.7" y2="338.1" stroke="#000" stroke-width="1.0" />
<line x1="385.59999999999997" y1="275.86405385870967" x2="387.2" y2="275.86405385870967" stroke="#000" stroke-width="0.55" />
<line x1="385.59999999999997" y1="273.4797782110958" x2="387.2" y2="273.4797782110958" stroke="#000" stroke-width="0.55" />
<line x1="385.59999999999997" y1="271.7881077174194" x2="387.2" y2="271.7881077174194" stroke="#000" stroke-width="0.55" />
<line x1="385.59999999999997" y1="270.4759461412903" x2="387.2" y2="270.4759461412903" stroke="#000" stroke-width="0.55" />
<line x1="385.59999999999997" y1="269.40383206980545" x2="387.2" y2="269.40383206980545" stroke="#000" stroke-width="0.55" />
<line x1="385.59999999999997" y1="268.49737253820695" x2="387.2" y2="268.49737253820695" stroke="#000" stroke-width="0.55" />
<line x1="385.59999999999997" y1="267.71216157612906" x2="387.2" y2="267.71216157612906" stroke="#000" stroke-width="0.55" />
<line x1="385.59999999999997" y1="267.01955642219156" x2="387.2" y2="267.01955642219156" stroke="#000" stroke-width="0.55" />
<line x1="385.59999999999997" y1="289.40405385870963" x2="387.2" y2="289.40405385870963" stroke="#000" stroke-width="0.55" />
<line x1="385.59999999999997" y1="287.01977821109574" x2="387.2" y2="287.01977821109574" stroke="#000" stroke-width="0.55" />
<line x1="385.59999999999997" y1="285.32810771741936" x2="387.2" y2="285.32810771741936" stroke="#000" stroke-width="0.55" />
<line x1="385.59999999999997" y1="284.01594614129027" x2="387.2" y2="284.01594614129027" stroke="#000" stroke-width="0.55" />
<line x1="385.59999999999997" y1="282.9438320698054" x2="387.2" y2="282.9438320698054" stroke="#000" stroke-width="0.55" />
<line x1="385.59999999999997" y1="282.0373725382069" x2="387.2" y2="282.0373725382069" stroke="#000" stroke-width="0.55" />
<line x1="385.59999999999997" y1="281.252161576129" x2="387.2" y2="281.252161576129" stroke="#000" stroke-width="0.55" />
<line x1="385.59999999999997" y1="280.5595564221915" x2="387.2" y2="280.5595564221915" stroke="#000" stroke-width="0.55" />
<line x1="385.59999999999997" y1="302.94405385870965" x2="387.2" y2="302.94405385870965" stroke="#000" stroke-width="0.55" />
<line x1="385.59999999999997" y1="300.55977821109576" x2="387.2" y2="300.55977821109576" stroke="#000" stroke-width="0.55" />
<line x1="385.59999999999997" y1="298.8681077174194" x2="387.2" y2="298.8681077174194" stroke="#000" stroke-width="0.55" />
<line x1="385.59999999999997" y1="297.5559461412903" x2="387.2" y2="297.5559461412903" stroke="#000" stroke-width="0.55" />
<line x1="385.59999999999997" y1="296.48383206980543" x2="387.2" y2="296.48383206980543" stroke="#000" stroke-width="0.55" />
<line x1="385.59999999999997" y1="295.57737253820693" x2="387.2" y2="295.57737253820693" stroke="#000" stroke-width="0.55" />
<line x1="385.59999999999997" y1="294.79216157612905" x2="387.2" y2="294.79216157612905" stroke="#000" stroke-width="0.55" />
<line x1="385.59999999999997" y1="294.09955642219154" x2="387.2" y2="294.09955642219154" stroke="#000" stroke-width="0.55" />
<line x1="385.59999999999997" y1="316.4840538587096" x2="387.2" y2="316.4840538587096" stroke="#000" stroke-width="0.55" />
<line x1="385.59999999999997" y1="314.0997782110957" x2="387.2" y2="314.0997782110957" stroke="#000" stroke-width="0.55" />
<line x1="385.59999999999997" y1="312.40810771741934" x2="387.2" y2="312.40810771741934" stroke="#000" stroke-width="0.55" />
<line x1="385.59999999999997" y1="311.09594614129026" x2="387.2" y2="311.09594614129026" stroke="#000" stroke-width="0.55" />
<line x1="385.59999999999997" y1="310.0238320698054" x2="387.2" y2="310.0238320698054" stroke="#000" stroke-width="0.55" />
<line x1="385.59999999999997" y1="309.1173725382069" x2="387.2" y2="309.1173725382069" stroke="#000" stroke-width="0.55" />
<line x1="385.59999999999997" y1="308.332161576129" x2="387.2" y2="308.332161576129" stroke="#000" stroke-width="0.55" />
<line x1="385.59999999999997" y1="307.6395564221915" x2="387.2" y2="307.6395564221915" stroke="#000" stroke-width="0.55" />
<line x1="385.59999999999997" y1="330.02405385870964" x2="387.2" y2="330.02405385870964" stroke="#000" stroke-width="0.55" />
<line x1="385.59999999999997" y1="327.63977821109575" x2="387.2" y2="327.63977821109575" stroke="#000" stroke-width="0.55" />
<line x1="385.59999999999997" y1="325.94810771741936" x2="387.2" y2="325.94810771741936" stroke="#000" stroke-width="0.55" />
<line x1="385.59999999999997" y1="324.6359461412903" x2="387.2" y2="324.6359461412903" stroke="#000" stroke-width="0.55" />
<line x1="385.59999999999997" y1="323.5638320698054" x2="387.2" y2="323.5638320698054" stroke="#000" stroke-width="0.55" />
<line x1="385.59999999999997" y1="322.6573725382069" x2="387.2" y2="322.6573725382069" stroke="#000" stroke-width="0.55" />
<line x1="385.59999999999997" y1="321.87216157612903" x2="387.2" y2="321.87216157612903" stroke="#000" stroke-width="0.55" />
<line x1="385.59999999999997" y1="321.1795564221915" x2="387.2" y2="321.1795564221915" stroke="#000" stroke-width="0.55" />
<text x="436.6" y="252" font-size="9.6" text-anchor="middle" font-weight="bold" textLength="34.2" lengthAdjust="spacingAndGlyphs">PBMCs</text>
<text transform="translate(349.6,298) rotate(-90)" font-size="9.4" text-anchor="middle" textLength="49.6" lengthAdjust="spacingAndGlyphs">%GFP<tspan font-size="6" dy="-2.4">+</tspan><tspan dy="2.4"> cells</tspan></text>
<text transform="translate(401.8,343.0) rotate(-45)" font-size="8.7" text-anchor="end">CD3</text>
<text transform="translate(421.7,343.0) rotate(-45)" font-size="8.7" text-anchor="end">CD19</text>
<text transform="translate(441.2,343.0) rotate(-45)" font-size="8.7" text-anchor="end">Gr-1</text>
<text transform="translate(461.4,343.0) rotate(-45)" font-size="8.7" text-anchor="end">LSK</text>
<text transform="translate(480.9,343.0) rotate(-45)" font-size="8.7" text-anchor="end">MNCs</text>
<path d="M473.9 269.1V266.8H482.1V269.1" fill="none" stroke="#000" stroke-width="1.2"/>
<path d="M476.15 259.75L476.15 262.65M474.89 260.47L477.41 261.93M477.41 260.47L474.89 261.93" stroke="#000" stroke-width="0.95" fill="none"/>
<circle cx="476.15" cy="261.20" r="0.8" fill="#000"/>
<path d="M479.85 259.75L479.85 262.65M478.59 260.47L481.11 261.93M481.11 260.47L478.59 261.93" stroke="#000" stroke-width="0.95" fill="none"/>
<circle cx="479.85" cy="261.20" r="0.8" fill="#000"/>
<rect x="391.50" y="269.80" width="3.0" height="3.0" fill="#000"/>
<rect x="391.00" y="271.50" width="3.0" height="3.0" fill="#000"/>
<rect x="392.30" y="272.50" width="3.0" height="3.0" fill="#000"/>
<rect x="411.50" y="275.50" width="3.0" height="3.0" fill="#000"/>
<rect x="411.10" y="277.10" width="3.0" height="3.0" fill="#000"/>
<rect x="412.10" y="277.70" width="3.0" height="3.0" fill="#000"/>
<rect x="431.00" y="275.00" width="3.0" height="3.0" fill="#000"/>
<rect x="433.00" y="280.00" width="3.0" height="3.0" fill="#000"/>
<rect x="430.00" y="282.00" width="3.0" height="3.0" fill="#000"/>
<rect x="431.00" y="290.00" width="3.0" height="3.0" fill="#000"/>
<rect x="431.00" y="318.90" width="3.0" height="3.0" fill="#000"/>
<rect x="471.00" y="273.00" width="3.0" height="3.0" fill="#000"/>
<rect x="469.50" y="275.50" width="3.0" height="3.0" fill="#000"/>
<rect x="469.00" y="280.50" width="3.0" height="3.0" fill="#000"/>
<rect x="472.00" y="279.50" width="3.0" height="3.0" fill="#000"/>
<path d="M401.00 267.10L402.40 268.50L401.00 269.90L399.60 268.50Z" fill="none" stroke="#000" stroke-width="1.15"/>
<path d="M400.00 272.60L401.40 274.00L400.00 275.40L398.60 274.00Z" fill="none" stroke="#000" stroke-width="1.15"/>
<path d="M402.50 272.10L403.90 273.50L402.50 274.90L401.10 273.50Z" fill="none" stroke="#000" stroke-width="1.15"/>
<path d="M401.00 274.60L402.40 276.00L401.00 277.40L399.60 276.00Z" fill="none" stroke="#000" stroke-width="1.15"/>
<path d="M420.40 279.60L421.80 281.00L420.40 282.40L419.00 281.00Z" fill="none" stroke="#000" stroke-width="1.15"/>
<path d="M420.40 286.10L421.80 287.50L420.40 288.90L419.00 287.50Z" fill="none" stroke="#000" stroke-width="1.15"/>
<path d="M440.00 273.10L441.40 274.50L440.00 275.90L438.60 274.50Z" fill="none" stroke="#000" stroke-width="1.15"/>
<path d="M440.50 275.60L441.90 277.00L440.50 278.40L439.10 277.00Z" fill="none" stroke="#000" stroke-width="1.15"/>
<path d="M439.50 278.10L440.90 279.50L439.50 280.90L438.10 279.50Z" fill="none" stroke="#000" stroke-width="1.15"/>
<path d="M440.70 279.10L442.10 280.50L440.70 281.90L439.30 280.50Z" fill="none" stroke="#000" stroke-width="1.15"/>
<path d="M440.00 283.10L441.40 284.50L440.00 285.90L438.60 284.50Z" fill="none" stroke="#000" stroke-width="1.15"/>
<path d="M480.00 280.60L481.40 282.00L480.00 283.40L478.60 282.00Z" fill="none" stroke="#000" stroke-width="1.15"/>
<path d="M478.50 282.60L479.90 284.00L478.50 285.40L477.10 284.00Z" fill="none" stroke="#000" stroke-width="1.15"/>
<path d="M481.50 283.10L482.90 284.50L481.50 285.90L480.10 284.50Z" fill="none" stroke="#000" stroke-width="1.15"/>
<path d="M478.50 287.60L479.90 289.00L478.50 290.40L477.10 289.00Z" fill="none" stroke="#000" stroke-width="1.15"/>
<path d="M481.50 286.10L482.90 287.50L481.50 288.90L480.10 287.50Z" fill="none" stroke="#000" stroke-width="1.15"/>
<line x1="417.9" y1="283.3" x2="422.9" y2="283.3" stroke="#000" stroke-width="1.15" />
<rect x="204.50" y="366.60" width="3.4" height="3.4" fill="#000"/>
<text x="211.3" y="370.8" font-size="7.9" text-anchor="start">mobilized</text>
<path d="M261.60 366.90L263.00 368.30L261.60 369.70L260.20 368.30Z" fill="none" stroke="#000" stroke-width="1.15"/>
<text x="265.8" y="370.8" font-size="7.9" text-anchor="start">non-mobilized</text>
<text x="6.9" y="399.2" font-size="12.3" text-anchor="start" font-weight="bold">D</text>
<line x1="52.8" y1="421.5" x2="52.8" y2="493.6" stroke="#000" stroke-width="1.25" />
<line x1="52.199999999999996" y1="493" x2="151.3" y2="493" stroke="#000" stroke-width="1.25" />
<line x1="49.4" y1="424.6" x2="52.8" y2="424.6" stroke="#000" stroke-width="1.0" />
<text x="46.1" y="427.5" font-size="8.0" text-anchor="end">10</text>
<line x1="49.4" y1="438.28000000000003" x2="52.8" y2="438.28000000000003" stroke="#000" stroke-width="1.0" />
<text x="46.1" y="441.18" font-size="8.0" text-anchor="end">8</text>
<line x1="49.4" y1="451.96000000000004" x2="52.8" y2="451.96000000000004" stroke="#000" stroke-width="1.0" />
<text x="46.1" y="454.86" font-size="8.0" text-anchor="end">6</text>
<line x1="49.4" y1="465.64000000000004" x2="52.8" y2="465.64000000000004" stroke="#000" stroke-width="1.0" />
<text x="46.1" y="468.54" font-size="8.0" text-anchor="end">4</text>
<line x1="49.4" y1="479.32000000000005" x2="52.8" y2="479.32000000000005" stroke="#000" stroke-width="1.0" />
<text x="46.1" y="482.22" font-size="8.0" text-anchor="end">2</text>
<line x1="49.4" y1="493.0" x2="52.8" y2="493.0" stroke="#000" stroke-width="1.0" />
<text x="46.1" y="495.9" font-size="8.0" text-anchor="end">0</text>
<line x1="62.4" y1="493" x2="62.4" y2="497" stroke="#000" stroke-width="1.0" />
<line x1="82.1" y1="493" x2="82.1" y2="497" stroke="#000" stroke-width="1.0" />
<line x1="101.7" y1="493" x2="101.7" y2="497" stroke="#000" stroke-width="1.0" />
<line x1="121.3" y1="493" x2="121.3" y2="497" stroke="#000" stroke-width="1.0" />
<line x1="141" y1="493" x2="141" y2="497" stroke="#000" stroke-width="1.0" />
<text x="102.3" y="414" font-size="10.2" text-anchor="middle" font-weight="bold" textLength="77.6" lengthAdjust="spacingAndGlyphs">BM (total MNCs)</text>
<text transform="translate(31.3,456.8) rotate(-90)" font-size="9.4" text-anchor="middle" textLength="49.6" lengthAdjust="spacingAndGlyphs">%GFP<tspan font-size="6" dy="-2.4">+</tspan><tspan dy="2.4"> cells</tspan></text>
<text transform="translate(65.9,503.1) rotate(-45)" font-size="9" text-anchor="end">3 d</text>
<text transform="translate(85.6,503.1) rotate(-45)" font-size="9" text-anchor="end">4 w</text>
<text transform="translate(105.2,503.1) rotate(-45)" font-size="9" text-anchor="end">8 w</text>
<text transform="translate(124.8,503.1) rotate(-45)" font-size="9" text-anchor="end">12 w</text>
<text transform="translate(144.5,503.1) rotate(-45)" font-size="9" text-anchor="end">20 w</text>
<text x="102" y="528.5" font-size="10.5" text-anchor="middle" textLength="89.5" lengthAdjust="spacingAndGlyphs">Time posttransduction</text>
<path d="M78 427.8V425.4H86.4V427.8" fill="none" stroke="#000" stroke-width="1.2"/>
<path d="M80.45 418.35L80.45 421.25M79.19 419.07L81.71 420.53M81.71 419.07L79.19 420.53" stroke="#000" stroke-width="0.95" fill="none"/>
<circle cx="80.45" cy="419.80" r="0.8" fill="#000"/>
<path d="M84.15 418.35L84.15 421.25M82.89 419.07L85.41 420.53M85.41 419.07L82.89 420.53" stroke="#000" stroke-width="0.95" fill="none"/>
<circle cx="84.15" cy="419.80" r="0.8" fill="#000"/>
<circle cx="65.40" cy="492.30" r="1.42" fill="none" stroke="#000" stroke-width="1.25"/>
<circle cx="78.50" cy="487.40" r="1.42" fill="none" stroke="#000" stroke-width="1.25"/>
<circle cx="78.20" cy="489.00" r="1.42" fill="none" stroke="#000" stroke-width="1.25"/>
<circle cx="78.80" cy="490.30" r="1.42" fill="none" stroke="#000" stroke-width="1.25"/>
<circle cx="78.40" cy="491.60" r="1.42" fill="none" stroke="#000" stroke-width="1.25"/>
<circle cx="78.60" cy="492.60" r="1.42" fill="none" stroke="#000" stroke-width="1.25"/>
<circle cx="98.10" cy="487.80" r="1.42" fill="none" stroke="#000" stroke-width="1.25"/>
<circle cx="97.80" cy="489.40" r="1.42" fill="none" stroke="#000" stroke-width="1.25"/>
<circle cx="98.40" cy="490.80" r="1.42" fill="none" stroke="#000" stroke-width="1.25"/>
<circle cx="98.10" cy="492.30" r="1.42" fill="none" stroke="#000" stroke-width="1.25"/>
<circle cx="116.00" cy="491.80" r="1.42" fill="none" stroke="#000" stroke-width="1.25"/>
<circle cx="117.60" cy="492.10" r="1.42" fill="none" stroke="#000" stroke-width="1.25"/>
<circle cx="120.60" cy="492.20" r="1.42" fill="none" stroke="#000" stroke-width="1.25"/>
<circle cx="119.40" cy="491.60" r="1.42" fill="none" stroke="#000" stroke-width="1.25"/>
<circle cx="118.70" cy="489.40" r="1.42" fill="none" stroke="#000" stroke-width="1.25"/>
<rect x="65.67" y="490.78" width="3.05" height="3.05" fill="#000"/>
<rect x="84.38" y="438.48" width="3.05" height="3.05" fill="#000"/>
<rect x="84.38" y="454.38" width="3.05" height="3.05" fill="#000"/>
<rect x="84.38" y="466.38" width="3.05" height="3.05" fill="#000"/>
<rect x="82.88" y="473.08" width="3.05" height="3.05" fill="#000"/>
<rect x="86.38" y="471.38" width="3.05" height="3.05" fill="#000"/>
<rect x="85.57" y="486.38" width="3.05" height="3.05" fill="#000"/>
<rect x="84.07" y="487.48" width="3.05" height="3.05" fill="#000"/>
<rect x="83.67" y="489.78" width="3.05" height="3.05" fill="#000"/>
<rect x="85.88" y="490.08" width="3.05" height="3.05" fill="#000"/>
<rect x="103.97" y="469.68" width="3.05" height="3.05" fill="#000"/>
<rect x="103.88" y="478.18" width="3.05" height="3.05" fill="#000"/>
<rect x="104.07" y="480.38" width="3.05" height="3.05" fill="#000"/>
<rect x="103.97" y="486.88" width="3.05" height="3.05" fill="#000"/>
<rect x="103.97" y="489.38" width="3.05" height="3.05" fill="#000"/>
<rect x="124.07" y="482.28" width="3.05" height="3.05" fill="#000"/>
<rect x="123.67" y="484.68" width="3.05" height="3.05" fill="#000"/>
<rect x="124.47" y="486.98" width="3.05" height="3.05" fill="#000"/>
<rect x="122.67" y="488.98" width="3.05" height="3.05" fill="#000"/>
<rect x="125.27" y="489.28" width="3.05" height="3.05" fill="#000"/>
<rect x="122.07" y="490.48" width="3.05" height="3.05" fill="#000"/>
<rect x="123.97" y="490.68" width="3.05" height="3.05" fill="#000"/>
<rect x="125.97" y="490.68" width="3.05" height="3.05" fill="#000"/>
<rect x="143.47" y="479.08" width="3.05" height="3.05" fill="#000"/>
<rect x="143.78" y="481.78" width="3.05" height="3.05" fill="#000"/>
<rect x="143.47" y="486.38" width="3.05" height="3.05" fill="#000"/>
<rect x="143.47" y="490.68" width="3.05" height="3.05" fill="#000"/>
<line x1="83.5" y1="473.7" x2="88.5" y2="473.7" stroke="#000" stroke-width="1.15" />
<line x1="103.0" y1="485" x2="108.4" y2="485" stroke="#000" stroke-width="1.15" />
<line x1="142.5" y1="486.1" x2="147.89999999999998" y2="486.1" stroke="#000" stroke-width="1.15" />
<line x1="227.5" y1="421.5" x2="227.5" y2="493.6" stroke="#000" stroke-width="1.25" />
<line x1="226.9" y1="493" x2="325.5" y2="493" stroke="#000" stroke-width="1.25" />
<line x1="224.1" y1="424.6" x2="227.5" y2="424.6" stroke="#000" stroke-width="1.0" />
<text x="221" y="427.5" font-size="8.0" text-anchor="end">30</text>
<line x1="224.1" y1="447.40000000000003" x2="227.5" y2="447.40000000000003" stroke="#000" stroke-width="1.0" />
<text x="221" y="450.3" font-size="8.0" text-anchor="end">20</text>
<line x1="224.1" y1="470.20000000000005" x2="227.5" y2="470.20000000000005" stroke="#000" stroke-width="1.0" />
<text x="221" y="473.1" font-size="8.0" text-anchor="end">10</text>
<line x1="224.1" y1="493.0" x2="227.5" y2="493.0" stroke="#000" stroke-width="1.0" />
<text x="221" y="495.9" font-size="8.0" text-anchor="end">0</text>
<line x1="237.4" y1="493" x2="237.4" y2="497" stroke="#000" stroke-width="1.0" />
<line x1="257.1" y1="493" x2="257.1" y2="497" stroke="#000" stroke-width="1.0" />
<line x1="276.7" y1="493" x2="276.7" y2="497" stroke="#000" stroke-width="1.0" />
<line x1="296.4" y1="493" x2="296.4" y2="497" stroke="#000" stroke-width="1.0" />
<line x1="315.9" y1="493" x2="315.9" y2="497" stroke="#000" stroke-width="1.0" />
<text x="277" y="414" font-size="10.2" text-anchor="middle" font-weight="bold" textLength="45" lengthAdjust="spacingAndGlyphs">BM (LSK)</text>
<text transform="translate(206.6,456.8) rotate(-90)" font-size="9.4" text-anchor="middle" textLength="49.6" lengthAdjust="spacingAndGlyphs">%GFP<tspan font-size="6" dy="-2.4">+</tspan><tspan dy="2.4"> cells</tspan></text>
<text transform="translate(240.9,503.1) rotate(-45)" font-size="9" text-anchor="end">3 d</text>
<text transform="translate(260.6,503.1) rotate(-45)" font-size="9" text-anchor="end">4 w</text>
<text transform="translate(280.2,503.1) rotate(-45)" font-size="9" text-anchor="end">8 w</text>
<text transform="translate(299.9,503.1) rotate(-45)" font-size="9" text-anchor="end">12 w</text>
<text transform="translate(319.4,503.1) rotate(-45)" font-size="9" text-anchor="end">20 w</text>
<text x="277.1" y="528.5" font-size="10.5" text-anchor="middle" textLength="89.5" lengthAdjust="spacingAndGlyphs">Time posttransduction</text>
<circle cx="239.50" cy="492.30" r="1.42" fill="none" stroke="#000" stroke-width="1.25"/>
<circle cx="239.90" cy="492.00" r="1.42" fill="none" stroke="#000" stroke-width="1.25"/>
<circle cx="252.30" cy="480.60" r="1.42" fill="none" stroke="#000" stroke-width="1.25"/>
<circle cx="253.80" cy="479.30" r="1.42" fill="none" stroke="#000" stroke-width="1.25"/>
<circle cx="253.00" cy="480.00" r="1.42" fill="none" stroke="#000" stroke-width="1.25"/>
<circle cx="253.10" cy="488.20" r="1.42" fill="none" stroke="#000" stroke-width="1.25"/>
<circle cx="252.60" cy="489.40" r="1.42" fill="none" stroke="#000" stroke-width="1.25"/>
<circle cx="253.30" cy="490.60" r="1.42" fill="none" stroke="#000" stroke-width="1.25"/>
<circle cx="253.00" cy="491.80" r="1.42" fill="none" stroke="#000" stroke-width="1.25"/>
<circle cx="272.90" cy="474.40" r="1.42" fill="none" stroke="#000" stroke-width="1.25"/>
<circle cx="271.00" cy="484.80" r="1.42" fill="none" stroke="#000" stroke-width="1.25"/>
<circle cx="274.40" cy="484.80" r="1.42" fill="none" stroke="#000" stroke-width="1.25"/>
<circle cx="272.70" cy="486.70" r="1.42" fill="none" stroke="#000" stroke-width="1.25"/>
<circle cx="272.40" cy="488.40" r="1.42" fill="none" stroke="#000" stroke-width="1.25"/>
<circle cx="272.90" cy="489.80" r="1.42" fill="none" stroke="#000" stroke-width="1.25"/>
<circle cx="272.70" cy="491.70" r="1.42" fill="none" stroke="#000" stroke-width="1.25"/>
<circle cx="292.50" cy="487.50" r="1.42" fill="none" stroke="#000" stroke-width="1.25"/>
<circle cx="291.50" cy="490.60" r="1.42" fill="none" stroke="#000" stroke-width="1.25"/>
<circle cx="293.00" cy="491.40" r="1.42" fill="none" stroke="#000" stroke-width="1.25"/>
<circle cx="292.00" cy="492.00" r="1.42" fill="none" stroke="#000" stroke-width="1.25"/>
<rect x="239.47" y="480.98" width="3.05" height="3.05" fill="#000"/>
<rect x="240.47" y="484.98" width="3.05" height="3.05" fill="#000"/>
<rect x="241.97" y="487.48" width="3.05" height="3.05" fill="#000"/>
<rect x="238.97" y="486.48" width="3.05" height="3.05" fill="#000"/>
<rect x="258.88" y="436.48" width="3.05" height="3.05" fill="#000"/>
<rect x="258.88" y="461.48" width="3.05" height="3.05" fill="#000"/>
<rect x="258.48" y="470.98" width="3.05" height="3.05" fill="#000"/>
<rect x="256.98" y="476.48" width="3.05" height="3.05" fill="#000"/>
<rect x="260.48" y="478.98" width="3.05" height="3.05" fill="#000"/>
<rect x="258.88" y="487.98" width="3.05" height="3.05" fill="#000"/>
<rect x="280.98" y="474.98" width="3.05" height="3.05" fill="#000"/>
<rect x="277.48" y="477.98" width="3.05" height="3.05" fill="#000"/>
<rect x="279.48" y="479.98" width="3.05" height="3.05" fill="#000"/>
<rect x="278.48" y="481.98" width="3.05" height="3.05" fill="#000"/>
<rect x="280.48" y="482.98" width="3.05" height="3.05" fill="#000"/>
<rect x="280.98" y="486.98" width="3.05" height="3.05" fill="#000"/>
<rect x="277.98" y="488.48" width="3.05" height="3.05" fill="#000"/>
<rect x="298.58" y="484.68" width="3.05" height="3.05" fill="#000"/>
<rect x="298.28" y="487.08" width="3.05" height="3.05" fill="#000"/>
<rect x="299.08" y="488.08" width="3.05" height="3.05" fill="#000"/>
<rect x="297.48" y="489.48" width="3.05" height="3.05" fill="#000"/>
<rect x="299.98" y="489.48" width="3.05" height="3.05" fill="#000"/>
<rect x="298.68" y="490.48" width="3.05" height="3.05" fill="#000"/>
<rect x="297.08" y="490.68" width="3.05" height="3.05" fill="#000"/>
<rect x="300.68" y="490.68" width="3.05" height="3.05" fill="#000"/>
<rect x="316.18" y="468.58" width="3.05" height="3.05" fill="#000"/>
<rect x="319.68" y="470.48" width="3.05" height="3.05" fill="#000"/>
<rect x="318.08" y="475.48" width="3.05" height="3.05" fill="#000"/>
<rect x="318.08" y="479.48" width="3.05" height="3.05" fill="#000"/>
<rect x="318.08" y="489.48" width="3.05" height="3.05" fill="#000"/>
<line x1="250.8" y1="485" x2="255.8" y2="485" stroke="#000" stroke-width="1.15" />
<line x1="258.1" y1="474.8" x2="263.1" y2="474.8" stroke="#000" stroke-width="1.15" />
<line x1="317.3" y1="478.3" x2="322.3" y2="478.3" stroke="#000" stroke-width="1.15" />
<line x1="52.8" y1="561.2" x2="52.8" y2="633.1" stroke="#000" stroke-width="1.25" />
<line x1="52.199999999999996" y1="632.5" x2="151.3" y2="632.5" stroke="#000" stroke-width="1.25" />
<line x1="49.4" y1="564.8" x2="52.8" y2="564.8" stroke="#000" stroke-width="1.0" />
<text x="46" y="567.6999999999999" font-size="8.0" text-anchor="end">60</text>
<line x1="49.4" y1="587.37" x2="52.8" y2="587.37" stroke="#000" stroke-width="1.0" />
<text x="46" y="590.27" font-size="8.0" text-anchor="end">40</text>
<line x1="49.4" y1="609.9399999999999" x2="52.8" y2="609.9399999999999" stroke="#000" stroke-width="1.0" />
<text x="46" y="612.8399999999999" font-size="8.0" text-anchor="end">20</text>
<line x1="49.4" y1="632.51" x2="52.8" y2="632.51" stroke="#000" stroke-width="1.0" />
<text x="46" y="635.41" font-size="8.0" text-anchor="end">0</text>
<line x1="62.4" y1="632.5" x2="62.4" y2="636.5" stroke="#000" stroke-width="1.0" />
<line x1="82.1" y1="632.5" x2="82.1" y2="636.5" stroke="#000" stroke-width="1.0" />
<line x1="101.7" y1="632.5" x2="101.7" y2="636.5" stroke="#000" stroke-width="1.0" />
<line x1="121.3" y1="632.5" x2="121.3" y2="636.5" stroke="#000" stroke-width="1.0" />
<line x1="141" y1="632.5" x2="141" y2="636.5" stroke="#000" stroke-width="1.0" />
<text x="101.7" y="556.1" font-size="10.2" text-anchor="middle" font-weight="bold" textLength="94.5" lengthAdjust="spacingAndGlyphs">Spleen (total MNCs)</text>
<text transform="translate(31.3,596.8) rotate(-90)" font-size="9.4" text-anchor="middle" textLength="49.6" lengthAdjust="spacingAndGlyphs">%GFP<tspan font-size="6" dy="-2.4">+</tspan><tspan dy="2.4"> cells</tspan></text>
<text transform="translate(65.9,642.6) rotate(-45)" font-size="9" text-anchor="end">3 d</text>
<text transform="translate(85.6,642.6) rotate(-45)" font-size="9" text-anchor="end">4 w</text>
<text transform="translate(105.2,642.6) rotate(-45)" font-size="9" text-anchor="end">8 w</text>
<text transform="translate(124.8,642.6) rotate(-45)" font-size="9" text-anchor="end">12 w</text>
<text transform="translate(144.5,642.6) rotate(-45)" font-size="9" text-anchor="end">20 w</text>
<text x="102" y="668.1" font-size="10.5" text-anchor="middle" textLength="89.5" lengthAdjust="spacingAndGlyphs">Time posttransduction</text>
<circle cx="65.60" cy="630.30" r="1.42" fill="none" stroke="#000" stroke-width="1.25"/>
<circle cx="78.40" cy="608.80" r="1.42" fill="none" stroke="#000" stroke-width="1.25"/>
<circle cx="78.40" cy="614.80" r="1.42" fill="none" stroke="#000" stroke-width="1.25"/>
<circle cx="76.70" cy="624.80" r="1.42" fill="none" stroke="#000" stroke-width="1.25"/>
<circle cx="79.50" cy="625.60" r="1.42" fill="none" stroke="#000" stroke-width="1.25"/>
<circle cx="80.60" cy="628.20" r="1.42" fill="none" stroke="#000" stroke-width="1.25"/>
<circle cx="79.30" cy="629.60" r="1.42" fill="none" stroke="#000" stroke-width="1.25"/>
<circle cx="77.20" cy="631.30" r="1.42" fill="none" stroke="#000" stroke-width="1.25"/>
<circle cx="98.30" cy="615.40" r="1.42" fill="none" stroke="#000" stroke-width="1.25"/>
<circle cx="98.30" cy="622.30" r="1.42" fill="none" stroke="#000" stroke-width="1.25"/>
<circle cx="98.30" cy="629.50" r="1.42" fill="none" stroke="#000" stroke-width="1.25"/>
<circle cx="97.80" cy="631.00" r="1.42" fill="none" stroke="#000" stroke-width="1.25"/>
<circle cx="98.60" cy="632.30" r="1.42" fill="none" stroke="#000" stroke-width="1.25"/>
<circle cx="117.90" cy="604.60" r="1.42" fill="none" stroke="#000" stroke-width="1.25"/>
<circle cx="117.90" cy="619.00" r="1.42" fill="none" stroke="#000" stroke-width="1.25"/>
<circle cx="115.90" cy="629.00" r="1.42" fill="none" stroke="#000" stroke-width="1.25"/>
<circle cx="119.80" cy="628.50" r="1.42" fill="none" stroke="#000" stroke-width="1.25"/>
<circle cx="117.30" cy="631.60" r="1.42" fill="none" stroke="#000" stroke-width="1.25"/>
<rect x="65.67" y="628.77" width="3.05" height="3.05" fill="#000"/>
<rect x="82.27" y="599.48" width="3.05" height="3.05" fill="#000"/>
<rect x="85.77" y="602.68" width="3.05" height="3.05" fill="#000"/>
<rect x="86.38" y="607.27" width="3.05" height="3.05" fill="#000"/>
<rect x="83.17" y="611.38" width="3.05" height="3.05" fill="#000"/>
<rect x="82.88" y="622.68" width="3.05" height="3.05" fill="#000"/>
<rect x="85.77" y="622.88" width="3.05" height="3.05" fill="#000"/>
<rect x="86.38" y="626.98" width="3.05" height="3.05" fill="#000"/>
<rect x="83.27" y="627.27" width="3.05" height="3.05" fill="#000"/>
<rect x="84.07" y="629.48" width="3.05" height="3.05" fill="#000"/>
<rect x="85.47" y="629.77" width="3.05" height="3.05" fill="#000"/>
<rect x="103.97" y="576.77" width="3.05" height="3.05" fill="#000"/>
<rect x="101.97" y="594.68" width="3.05" height="3.05" fill="#000"/>
<rect x="105.17" y="596.98" width="3.05" height="3.05" fill="#000"/>
<rect x="102.88" y="605.98" width="3.05" height="3.05" fill="#000"/>
<rect x="105.97" y="605.27" width="3.05" height="3.05" fill="#000"/>
<rect x="101.97" y="622.68" width="3.05" height="3.05" fill="#000"/>
<rect x="104.27" y="626.68" width="3.05" height="3.05" fill="#000"/>
<rect x="103.27" y="629.27" width="3.05" height="3.05" fill="#000"/>
<rect x="105.07" y="629.08" width="3.05" height="3.05" fill="#000"/>
<rect x="123.88" y="596.58" width="3.05" height="3.05" fill="#000"/>
<rect x="123.88" y="618.88" width="3.05" height="3.05" fill="#000"/>
<rect x="123.88" y="623.77" width="3.05" height="3.05" fill="#000"/>
<rect x="122.07" y="628.48" width="3.05" height="3.05" fill="#000"/>
<rect x="123.97" y="627.88" width="3.05" height="3.05" fill="#000"/>
<rect x="125.77" y="628.48" width="3.05" height="3.05" fill="#000"/>
<rect x="122.97" y="629.88" width="3.05" height="3.05" fill="#000"/>
<rect x="124.97" y="629.88" width="3.05" height="3.05" fill="#000"/>
<rect x="143.47" y="574.08" width="3.05" height="3.05" fill="#000"/>
<rect x="141.38" y="617.18" width="3.05" height="3.05" fill="#000"/>
<rect x="144.67" y="619.98" width="3.05" height="3.05" fill="#000"/>
<rect x="145.57" y="625.77" width="3.05" height="3.05" fill="#000"/>
<rect x="142.07" y="628.27" width="3.05" height="3.05" fill="#000"/>
<line x1="77.0" y1="622.7" x2="81.4" y2="622.7" stroke="#000" stroke-width="1.15" />
<line x1="83.4" y1="619" x2="88.6" y2="619" stroke="#000" stroke-width="1.15" />
<line x1="96.0" y1="626.7" x2="100.6" y2="626.7" stroke="#000" stroke-width="1.15" />
<line x1="103.0" y1="612.7" x2="108.19999999999999" y2="612.7" stroke="#000" stroke-width="1.15" />
<line x1="115.60000000000001" y1="624.2" x2="120.2" y2="624.2" stroke="#000" stroke-width="1.15" />
<line x1="123.10000000000001" y1="626.6" x2="127.7" y2="626.6" stroke="#000" stroke-width="1.15" />
<line x1="142.5" y1="614.6" x2="147.5" y2="614.6" stroke="#000" stroke-width="1.15" />
<line x1="227.5" y1="561.2" x2="227.5" y2="633.1" stroke="#000" stroke-width="1.25" />
<line x1="226.9" y1="632.5" x2="325.8" y2="632.5" stroke="#000" stroke-width="1.25" />
<line x1="224.1" y1="564.8" x2="227.5" y2="564.8" stroke="#000" stroke-width="1.0" />
<text x="221.6" y="567.6999999999999" font-size="8.0" text-anchor="end">4</text>
<line x1="224.1" y1="581.7299999999999" x2="227.5" y2="581.7299999999999" stroke="#000" stroke-width="1.0" />
<text x="221.6" y="584.6299999999999" font-size="8.0" text-anchor="end">3</text>
<line x1="224.1" y1="598.66" x2="227.5" y2="598.66" stroke="#000" stroke-width="1.0" />
<text x="221.6" y="601.56" font-size="8.0" text-anchor="end">2</text>
<line x1="224.1" y1="615.5899999999999" x2="227.5" y2="615.5899999999999" stroke="#000" stroke-width="1.0" />
<text x="221.6" y="618.4899999999999" font-size="8.0" text-anchor="end">1</text>
<line x1="224.1" y1="632.52" x2="227.5" y2="632.52" stroke="#000" stroke-width="1.0" />
<text x="221.6" y="635.42" font-size="8.0" text-anchor="end">0</text>
<line x1="237.4" y1="632.5" x2="237.4" y2="636.5" stroke="#000" stroke-width="1.0" />
<line x1="257.1" y1="632.5" x2="257.1" y2="636.5" stroke="#000" stroke-width="1.0" />
<line x1="276.7" y1="632.5" x2="276.7" y2="636.5" stroke="#000" stroke-width="1.0" />
<line x1="296.4" y1="632.5" x2="296.4" y2="636.5" stroke="#000" stroke-width="1.0" />
<line x1="315.9" y1="632.5" x2="315.9" y2="636.5" stroke="#000" stroke-width="1.0" />
<text x="276.8" y="556.1" font-size="10.2" text-anchor="middle" font-weight="bold" textLength="97.4" lengthAdjust="spacingAndGlyphs">PBMCs (total MNCs)</text>
<text transform="translate(210.79999999999998,596.8) rotate(-90)" font-size="9.4" text-anchor="middle" textLength="49.6" lengthAdjust="spacingAndGlyphs">%GFP<tspan font-size="6" dy="-2.4">+</tspan><tspan dy="2.4"> cells</tspan></text>
<text transform="translate(240.9,642.6) rotate(-45)" font-size="9" text-anchor="end">3 d</text>
<text transform="translate(260.6,642.6) rotate(-45)" font-size="9" text-anchor="end">4 w</text>
<text transform="translate(280.2,642.6) rotate(-45)" font-size="9" text-anchor="end">8 w</text>
<text transform="translate(299.9,642.6) rotate(-45)" font-size="9" text-anchor="end">12 w</text>
<text transform="translate(319.4,642.6) rotate(-45)" font-size="9" text-anchor="end">20 w</text>
<text x="277" y="668.1" font-size="10.5" text-anchor="middle" textLength="89.5" lengthAdjust="spacingAndGlyphs">Time posttransduction</text>
<circle cx="253.30" cy="613.70" r="1.42" fill="none" stroke="#000" stroke-width="1.25"/>
<circle cx="253.00" cy="623.80" r="1.42" fill="none" stroke="#000" stroke-width="1.25"/>
<circle cx="253.80" cy="624.60" r="1.42" fill="none" stroke="#000" stroke-width="1.25"/>
<circle cx="253.00" cy="626.00" r="1.42" fill="none" stroke="#000" stroke-width="1.25"/>
<circle cx="254.80" cy="628.20" r="1.42" fill="none" stroke="#000" stroke-width="1.25"/>
<circle cx="251.90" cy="631.30" r="1.42" fill="none" stroke="#000" stroke-width="1.25"/>
<circle cx="272.90" cy="626.70" r="1.42" fill="none" stroke="#000" stroke-width="1.25"/>
<circle cx="272.60" cy="629.80" r="1.42" fill="none" stroke="#000" stroke-width="1.25"/>
<circle cx="273.20" cy="631.00" r="1.42" fill="none" stroke="#000" stroke-width="1.25"/>
<circle cx="272.80" cy="632.20" r="1.42" fill="none" stroke="#000" stroke-width="1.25"/>
<circle cx="292.50" cy="583.80" r="1.42" fill="none" stroke="#000" stroke-width="1.25"/>
<circle cx="292.90" cy="628.80" r="1.42" fill="none" stroke="#000" stroke-width="1.25"/>
<circle cx="290.40" cy="631.80" r="1.42" fill="none" stroke="#000" stroke-width="1.25"/>
<circle cx="292.20" cy="632.00" r="1.42" fill="none" stroke="#000" stroke-width="1.25"/>
<circle cx="294.40" cy="631.80" r="1.42" fill="none" stroke="#000" stroke-width="1.25"/>
<rect x="239.47" y="590.77" width="3.05" height="3.05" fill="#000"/>
<rect x="239.47" y="599.58" width="3.05" height="3.05" fill="#000"/>
<rect x="239.47" y="604.48" width="3.05" height="3.05" fill="#000"/>
<rect x="238.28" y="619.77" width="3.05" height="3.05" fill="#000"/>
<rect x="241.47" y="617.18" width="3.05" height="3.05" fill="#000"/>
<rect x="261.18" y="617.68" width="3.05" height="3.05" fill="#000"/>
<rect x="257.88" y="619.18" width="3.05" height="3.05" fill="#000"/>
<rect x="257.28" y="622.88" width="3.05" height="3.05" fill="#000"/>
<rect x="260.78" y="623.48" width="3.05" height="3.05" fill="#000"/>
<rect x="259.68" y="625.18" width="3.05" height="3.05" fill="#000"/>
<rect x="261.38" y="627.48" width="3.05" height="3.05" fill="#000"/>
<rect x="258.48" y="630.48" width="3.05" height="3.05" fill="#000"/>
<rect x="260.08" y="630.08" width="3.05" height="3.05" fill="#000"/>
<rect x="278.08" y="630.08" width="3.05" height="3.05" fill="#000"/>
<rect x="279.88" y="630.27" width="3.05" height="3.05" fill="#000"/>
<rect x="298.68" y="593.77" width="3.05" height="3.05" fill="#000"/>
<rect x="298.68" y="612.88" width="3.05" height="3.05" fill="#000"/>
<rect x="298.68" y="628.68" width="3.05" height="3.05" fill="#000"/>
<rect x="298.48" y="630.48" width="3.05" height="3.05" fill="#000"/>
<rect x="318.28" y="616.58" width="3.05" height="3.05" fill="#000"/>
<rect x="317.98" y="630.48" width="3.05" height="3.05" fill="#000"/>
<rect x="316.08" y="630.48" width="3.05" height="3.05" fill="#000"/>
<rect x="319.88" y="630.48" width="3.05" height="3.05" fill="#000"/>
<line x1="238.3" y1="607.9" x2="243.7" y2="607.9" stroke="#000" stroke-width="1.15" />
<line x1="257.7" y1="632.2" x2="263.09999999999997" y2="632.2" stroke="#000" stroke-width="1.15" />
<line x1="290.0" y1="623.5" x2="295.20000000000005" y2="623.5" stroke="#000" stroke-width="1.15" />
<line x1="297.5" y1="627.1" x2="302.70000000000005" y2="627.1" stroke="#000" stroke-width="1.15" />
<line x1="317.09999999999997" y1="630.2" x2="322.3" y2="630.2" stroke="#000" stroke-width="1.15" />
<rect x="113.70" y="676.50" width="3.4" height="3.4" fill="#000"/>
<text x="120" y="680.6" font-size="8" text-anchor="start">HD-Ad-SB + HD-Ad-GFP</text>
<circle cx="221.10" cy="678.20" r="1.42" fill="none" stroke="#000" stroke-width="1.25"/>
<text x="225.5" y="680.6" font-size="8" text-anchor="start">HD-Ad-GFP</text>
<text x="342.2" y="399.4" font-size="12.3" text-anchor="start" font-weight="bold">E</text>
<text x="428.8" y="414" font-size="10.2" text-anchor="middle" font-weight="bold" textLength="15" lengthAdjust="spacingAndGlyphs">BM</text>
<text transform="translate(366.0,456.6) rotate(-90)" font-size="9.4" text-anchor="middle" textLength="49.6" lengthAdjust="spacingAndGlyphs">%GFP<tspan font-size="6" dy="-2.4">+</tspan><tspan dy="2.4"> cells</tspan></text>
<line x1="392.7" y1="488.7" x2="392.7" y2="491.1" stroke="#000" stroke-width="1.0" />
<line x1="391.3" y1="488.7" x2="394.09999999999997" y2="488.7" stroke="#000" stroke-width="1.0" />
<rect x="391.2" y="491.1" width="3" height="1.3999999999999773" fill="#cecece" stroke="none" stroke-width="1"/>
<line x1="399.6" y1="472.6" x2="399.6" y2="491.4" stroke="#000" stroke-width="1.0" />
<line x1="398.20000000000005" y1="472.6" x2="401.0" y2="472.6" stroke="#000" stroke-width="1.0" />
<rect x="397.3" y="482.1" width="4.6" height="10.399999999999977" fill="#808080" stroke="none" stroke-width="1"/>
<line x1="399.6" y1="482.1" x2="399.6" y2="491.4" stroke="#000" stroke-width="1.0" />
<line x1="398.20000000000005" y1="491.4" x2="401.0" y2="491.4" stroke="#000" stroke-width="1.0" />
<line x1="406.45" y1="478.4" x2="406.45" y2="482.1" stroke="#000" stroke-width="1.0" />
<line x1="405.05" y1="478.4" x2="407.84999999999997" y2="478.4" stroke="#000" stroke-width="1.0" />
<rect x="404.09999999999997" y="482.1" width="4.7" height="10.399999999999977" fill="#000" stroke="none" stroke-width="1"/>
<line x1="417.55" y1="473.5" x2="417.55" y2="488.9" stroke="#000" stroke-width="1.0" />
<line x1="416.15000000000003" y1="473.5" x2="418.95" y2="473.5" stroke="#000" stroke-width="1.0" />
<rect x="415.2" y="481.1" width="4.7" height="11.399999999999977" fill="#e2e2e2" stroke="none" stroke-width="1"/>
<line x1="417.55" y1="481.1" x2="417.55" y2="488.9" stroke="#000" stroke-width="1.0" />
<line x1="416.15000000000003" y1="488.9" x2="418.95" y2="488.9" stroke="#000" stroke-width="1.0" />
<line x1="424.45" y1="429.4" x2="424.45" y2="476.2" stroke="#000" stroke-width="1.0" />
<line x1="423.05" y1="429.4" x2="425.84999999999997" y2="429.4" stroke="#000" stroke-width="1.0" />
<rect x="422.0" y="453.2" width="4.9" height="39.30000000000001" fill="#808080" stroke="none" stroke-width="1"/>
<line x1="424.45" y1="453.2" x2="424.45" y2="476.2" stroke="#000" stroke-width="1.0" />
<line x1="423.05" y1="476.2" x2="425.84999999999997" y2="476.2" stroke="#000" stroke-width="1.0" />
<line x1="431.05" y1="471.9" x2="431.05" y2="482.1" stroke="#000" stroke-width="1.0" />
<line x1="429.65000000000003" y1="471.9" x2="432.45" y2="471.9" stroke="#000" stroke-width="1.0" />
<rect x="428.7" y="482.1" width="4.7" height="10.399999999999977" fill="#000" stroke="none" stroke-width="1"/>
<rect x="439.9" y="491.6" width="4.2" height="0.8999999999999773" fill="#e2e2e2" stroke="none" stroke-width="1"/>
<line x1="448.7" y1="483.8" x2="448.7" y2="490.6" stroke="#000" stroke-width="1.0" />
<line x1="447.3" y1="483.8" x2="450.09999999999997" y2="483.8" stroke="#000" stroke-width="1.0" />
<rect x="446.5" y="486.7" width="4.4" height="5.800000000000011" fill="#808080" stroke="none" stroke-width="1"/>
<line x1="448.7" y1="486.7" x2="448.7" y2="490.6" stroke="#000" stroke-width="1.0" />
<line x1="447.3" y1="490.6" x2="450.09999999999997" y2="490.6" stroke="#000" stroke-width="1.0" />
<line x1="455.8" y1="488" x2="455.8" y2="490.2" stroke="#000" stroke-width="1.0" />
<line x1="454.40000000000003" y1="488" x2="457.2" y2="488" stroke="#000" stroke-width="1.0" />
<rect x="453.6" y="490.2" width="4.4" height="2.3000000000000114" fill="#000" stroke="none" stroke-width="1"/>
<line x1="466.5" y1="483.8" x2="466.5" y2="491" stroke="#000" stroke-width="1.0" />
<line x1="465.1" y1="483.8" x2="467.9" y2="483.8" stroke="#000" stroke-width="1.0" />
<rect x="464.4" y="488" width="4.2" height="4.5" fill="#e2e2e2" stroke="none" stroke-width="1"/>
<line x1="466.5" y1="488" x2="466.5" y2="491" stroke="#000" stroke-width="1.0" />
<line x1="465.1" y1="491" x2="467.9" y2="491" stroke="#000" stroke-width="1.0" />
<line x1="473.6" y1="478.5" x2="473.6" y2="487.7" stroke="#000" stroke-width="1.0" />
<line x1="472.20000000000005" y1="478.5" x2="475.0" y2="478.5" stroke="#000" stroke-width="1.0" />
<rect x="471.40000000000003" y="482.9" width="4.4" height="9.600000000000023" fill="#808080" stroke="none" stroke-width="1"/>
<line x1="473.6" y1="482.9" x2="473.6" y2="487.7" stroke="#000" stroke-width="1.0" />
<line x1="472.20000000000005" y1="487.7" x2="475.0" y2="487.7" stroke="#000" stroke-width="1.0" />
<line x1="480.6" y1="470" x2="480.6" y2="478" stroke="#000" stroke-width="1.0" />
<line x1="479.20000000000005" y1="470" x2="482.0" y2="470" stroke="#000" stroke-width="1.0" />
<rect x="478.20000000000005" y="478" width="4.8" height="14.5" fill="#000" stroke="none" stroke-width="1"/>
<line x1="387.4" y1="421.5" x2="387.4" y2="493.3" stroke="#000" stroke-width="1.25" />
<line x1="386.79999999999995" y1="492.7" x2="486.3" y2="492.7" stroke="#000" stroke-width="1.25" />
<line x1="384.0" y1="424.6" x2="387.4" y2="424.6" stroke="#000" stroke-width="1.0" />
<text x="380.2" y="427.5" font-size="8.0" text-anchor="end">30</text>
<line x1="384.0" y1="447.40000000000003" x2="387.4" y2="447.40000000000003" stroke="#000" stroke-width="1.0" />
<text x="380.2" y="450.3" font-size="8.0" text-anchor="end">20</text>
<line x1="384.0" y1="470.20000000000005" x2="387.4" y2="470.20000000000005" stroke="#000" stroke-width="1.0" />
<text x="380.2" y="473.1" font-size="8.0" text-anchor="end">10</text>
<line x1="384.0" y1="493.0" x2="387.4" y2="493.0" stroke="#000" stroke-width="1.0" />
<text x="380.2" y="495.9" font-size="8.0" text-anchor="end">0</text>
<line x1="399.3" y1="492.7" x2="399.3" y2="496.7" stroke="#000" stroke-width="1.0" />
<line x1="424.3" y1="492.7" x2="424.3" y2="496.7" stroke="#000" stroke-width="1.0" />
<line x1="448.8" y1="492.7" x2="448.8" y2="496.7" stroke="#000" stroke-width="1.0" />
<line x1="473.8" y1="492.7" x2="473.8" y2="496.7" stroke="#000" stroke-width="1.0" />
<text transform="translate(402.3,502.0) rotate(-45)" font-size="8.7" text-anchor="end">CD3</text>
<text transform="translate(427.3,502.0) rotate(-45)" font-size="8.7" text-anchor="end">CD19</text>
<text transform="translate(451.8,502.0) rotate(-45)" font-size="8.7" text-anchor="end">Gr-1</text>
<text transform="translate(476.8,502.0) rotate(-45)" font-size="8.7" text-anchor="end">LSK</text>
<path d="M416.5 428.4C416.5 426.9 417.6 426.8 419 426.8H422.4C423.6 426.8 424.45 427.4 424.45 429.4C424.45 427.4 425.3 426.8 426.5 426.8H429.6C431 426.8 431.9 426.9 431.9 428.4" fill="none" stroke="#000" stroke-width="1.2" stroke-linecap="round" stroke-linejoin="round"/>
<path d="M418.75 419.55L418.75 422.45M417.49 420.27L420.01 421.73M420.01 420.27L417.49 421.73" stroke="#000" stroke-width="0.95" fill="none"/>
<circle cx="418.75" cy="421.00" r="0.8" fill="#000"/>
<path d="M422.45 419.55L422.45 422.45M421.19 420.27L423.71 421.73M423.71 420.27L421.19 421.73" stroke="#000" stroke-width="0.95" fill="none"/>
<circle cx="422.45" cy="421.00" r="0.8" fill="#000"/>
<path d="M426.15 419.55L426.15 422.45M424.89 420.27L427.41 421.73M427.41 420.27L424.89 421.73" stroke="#000" stroke-width="0.95" fill="none"/>
<circle cx="426.15" cy="421.00" r="0.8" fill="#000"/>
<path d="M429.85 419.55L429.85 422.45M428.59 420.27L431.11 421.73M431.11 420.27L428.59 421.73" stroke="#000" stroke-width="0.95" fill="none"/>
<circle cx="429.85" cy="421.00" r="0.8" fill="#000"/>
<text x="436.4" y="556.1" font-size="10.2" text-anchor="middle" font-weight="bold" textLength="32.4" lengthAdjust="spacingAndGlyphs">Spleen</text>
<text transform="translate(361.6,596.6) rotate(-90)" font-size="9.4" text-anchor="middle" textLength="49.6" lengthAdjust="spacingAndGlyphs">%GFP<tspan font-size="6" dy="-2.4">+</tspan><tspan dy="2.4"> cells</tspan></text>
<rect x="392.5" y="630.6" width="4.4" height="2" fill="#cecece" stroke="none" stroke-width="1"/>
<rect x="392.4" y="628.7" width="4.3" height="1.9" fill="#000" stroke="none" stroke-width="1"/>
<line x1="403.85" y1="628.2" x2="403.85" y2="631.8" stroke="#000" stroke-width="1.0" />
<line x1="401.85" y1="628.2" x2="405.85" y2="628.2" stroke="#000" stroke-width="1.0" />
<rect x="400.95000000000005" y="629.7" width="5.8" height="2.7999999999999545" fill="#808080" stroke="none" stroke-width="1"/>
<line x1="403.85" y1="629.7" x2="403.85" y2="631.8" stroke="#000" stroke-width="1.0" />
<line x1="401.85" y1="631.8" x2="405.85" y2="631.8" stroke="#000" stroke-width="1.0" />
<rect x="409.3" y="631.3" width="7" height="1.3" fill="#000" stroke="none" stroke-width="1"/>
<line x1="427.6" y1="627" x2="427.6" y2="630.8" stroke="#000" stroke-width="1.0" />
<line x1="425.6" y1="627" x2="429.6" y2="627" stroke="#000" stroke-width="1.0" />
<rect x="425.20000000000005" y="629" width="4.8" height="3.5" fill="#dcdcdc" stroke="none" stroke-width="1"/>
<line x1="427.6" y1="629" x2="427.6" y2="630.8" stroke="#000" stroke-width="1.0" />
<line x1="425.6" y1="630.8" x2="429.6" y2="630.8" stroke="#000" stroke-width="1.0" />
<line x1="436.2" y1="598" x2="436.2" y2="631.4" stroke="#000" stroke-width="1.0" />
<line x1="434.59999999999997" y1="598" x2="437.8" y2="598" stroke="#000" stroke-width="1.0" />
<rect x="433.05" y="614.9" width="6.3" height="17.600000000000023" fill="#808080" stroke="none" stroke-width="1"/>
<line x1="436.2" y1="614.9" x2="436.2" y2="631.4" stroke="#000" stroke-width="1.0" />
<line x1="434.59999999999997" y1="631.4" x2="437.8" y2="631.4" stroke="#000" stroke-width="1.0" />
<line x1="445.3" y1="588" x2="445.3" y2="614.3" stroke="#000" stroke-width="1.0" />
<line x1="443.7" y1="588" x2="446.90000000000003" y2="588" stroke="#000" stroke-width="1.0" />
<rect x="442.15000000000003" y="614.3" width="6.3" height="18.200000000000045" fill="#000" stroke="none" stroke-width="1"/>
<rect x="458.6" y="631.3" width="3" height="1.3" fill="#000" stroke="none" stroke-width="1"/>
<line x1="469.1" y1="615.9" x2="469.1" y2="623.2" stroke="#000" stroke-width="1.0" />
<line x1="467.3" y1="615.9" x2="470.90000000000003" y2="615.9" stroke="#000" stroke-width="1.0" />
<rect x="466.20000000000005" y="619.7" width="5.8" height="12.799999999999955" fill="#808080" stroke="none" stroke-width="1"/>
<line x1="469.1" y1="619.7" x2="469.1" y2="623.2" stroke="#000" stroke-width="1.0" />
<line x1="467.3" y1="623.2" x2="470.90000000000003" y2="623.2" stroke="#000" stroke-width="1.0" />
<line x1="478.2" y1="606" x2="478.2" y2="623" stroke="#000" stroke-width="1.0" />
<line x1="476.5" y1="606" x2="479.9" y2="606" stroke="#000" stroke-width="1.0" />
<rect x="475.15" y="623" width="6.1" height="9.5" fill="#000" stroke="none" stroke-width="1"/>
<line x1="387.4" y1="561.2" x2="387.4" y2="633.2" stroke="#000" stroke-width="1.25" />
<line x1="386.79999999999995" y1="632.6" x2="486" y2="632.6" stroke="#000" stroke-width="1.25" />
<line x1="384.0" y1="564.7" x2="387.4" y2="564.7" stroke="#000" stroke-width="1.0" />
<text x="380" y="567.6" font-size="8.0" text-anchor="end">100</text>
<line x1="384.0" y1="578.3000000000001" x2="387.4" y2="578.3000000000001" stroke="#000" stroke-width="1.0" />
<text x="380" y="581.2" font-size="8.0" text-anchor="end">80</text>
<line x1="384.0" y1="591.9000000000001" x2="387.4" y2="591.9000000000001" stroke="#000" stroke-width="1.0" />
<text x="380" y="594.8000000000001" font-size="8.0" text-anchor="end">60</text>
<line x1="384.0" y1="605.5" x2="387.4" y2="605.5" stroke="#000" stroke-width="1.0" />
<text x="380" y="608.4" font-size="8.0" text-anchor="end">40</text>
<line x1="384.0" y1="619.1" x2="387.4" y2="619.1" stroke="#000" stroke-width="1.0" />
<text x="380" y="622.0" font-size="8.0" text-anchor="end">20</text>
<line x1="384.0" y1="632.7" x2="387.4" y2="632.7" stroke="#000" stroke-width="1.0" />
<line x1="403.3" y1="632.6" x2="403.3" y2="636.6" stroke="#000" stroke-width="1.0" />
<line x1="436.2" y1="632.6" x2="436.2" y2="636.6" stroke="#000" stroke-width="1.0" />
<line x1="468.8" y1="632.6" x2="468.8" y2="636.6" stroke="#000" stroke-width="1.0" />
<text transform="translate(406.3,642.0) rotate(-45)" font-size="8.7" text-anchor="end">CD3</text>
<text transform="translate(439.2,642.0) rotate(-45)" font-size="8.7" text-anchor="end">CD19</text>
<text transform="translate(471.8,642.0) rotate(-45)" font-size="8.7" text-anchor="end">Gr-1</text>
<rect x="458.8" y="566.3" width="8.8" height="3.3" fill="#cecece" stroke="none" stroke-width="1"/>
<rect x="458.8" y="575.8" width="8.8" height="3.4" fill="#808080" stroke="none" stroke-width="1"/>
<rect x="458.8" y="585.5" width="8.8" height="3.5" fill="#000" stroke="none" stroke-width="1"/>
<text x="470.6" y="570.6" font-size="8" text-anchor="start">3 days</text>
<text x="470.6" y="580" font-size="8" text-anchor="start">8 weeks</text>
<text x="470.6" y="589.6" font-size="8" text-anchor="start">20 weeks</text>
</svg>
<div id="frame"></div>
</body></html>
